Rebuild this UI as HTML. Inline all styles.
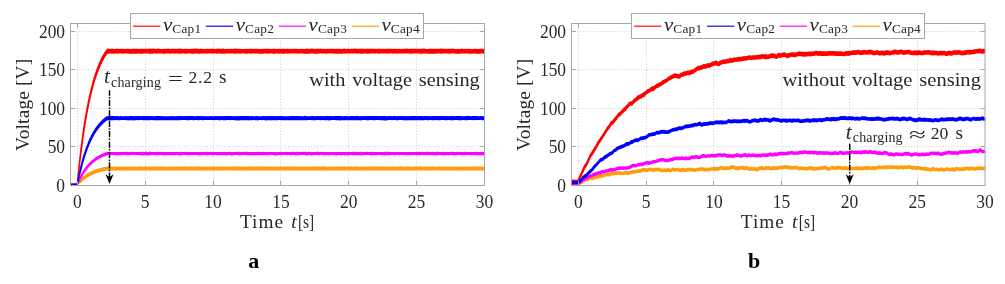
<!DOCTYPE html>
<html lang="en">
<head>
<meta charset="utf-8">
<title>Capacitor charging voltages</title>
<style>
html,body{margin:0;padding:0;background:#fff;}
body{width:1005px;height:284px;overflow:hidden;font-family:"Liberation Serif",serif;}
svg{display:block;will-change:transform;}
text{font-family:"Liberation Serif",serif;fill:#282828;}
.g{stroke:#cecece;stroke-width:1;stroke-dasharray:1 1.9;}
.a{stroke:#a6a6a6;stroke-width:1;}
.tk{font-size:19px;}
.lb{font-size:19.3px;}
.it{font-style:italic;}
.lv{font-size:18.6px;font-style:italic;}
.ls{font-size:13.3px;}
.at{font-size:19.3px;}
.as{font-size:14px;}
.an{font-size:17.6px;}
.cap{font-size:22px;font-weight:bold;fill:#000;}
</style>
</head>
<body>
<svg width="1005" height="284" viewBox="0 0 1005 284">
<rect width="1005" height="284" fill="#fff"/>
<g id="panel-a">
<line x1="77.5" y1="23.5" x2="77.5" y2="185.5" class="g"/>
<line x1="145.5" y1="23.5" x2="145.5" y2="185.5" class="g"/>
<line x1="213.5" y1="23.5" x2="213.5" y2="185.5" class="g"/>
<line x1="280.5" y1="23.5" x2="280.5" y2="185.5" class="g"/>
<line x1="348.5" y1="23.5" x2="348.5" y2="185.5" class="g"/>
<line x1="416.5" y1="23.5" x2="416.5" y2="185.5" class="g"/>
<line x1="70.5" y1="146.5" x2="484.5" y2="146.5" class="g"/>
<line x1="70.5" y1="108.5" x2="484.5" y2="108.5" class="g"/>
<line x1="70.5" y1="69.5" x2="484.5" y2="69.5" class="g"/>
<line x1="70.5" y1="31.5" x2="484.5" y2="31.5" class="g"/>
<path d="M71.0,184.5L72.0,184.4L73.0,184.4L74.0,184.3L75.0,184.4L76.0,184.3L77.0,184.5L77.3,184.2L77.5,181.8L77.8,179.2L78.0,177.0L78.0,176.6L78.3,174.1L78.5,171.5L78.8,169.1L79.0,166.9L79.0,166.5L79.3,164.2L79.5,161.6L79.8,159.4L80.0,157.4L80.0,157.3L80.3,154.9L80.5,152.8L80.8,150.7L81.0,149.0L81.0,148.3L81.3,146.6L81.5,144.8L81.8,142.8L82.0,141.0L82.0,140.9L82.3,138.9L82.5,137.1L82.8,135.3L83.0,133.8L83.0,133.7L83.3,131.8L83.5,130.1L83.8,128.5L84.0,127.1L84.0,126.9L84.3,125.1L84.5,123.6L84.8,121.9L85.0,120.5L85.0,120.4L85.3,119.0L85.5,117.4L85.8,115.7L86.0,114.7L86.0,114.4L86.3,113.1L86.5,111.7L86.8,110.3L87.0,109.1L87.0,109.0L87.3,107.6L87.5,106.1L87.8,105.0L88.0,104.0L88.0,103.7L88.3,102.5L88.5,101.2L88.8,100.0L89.0,99.1L89.0,98.8L89.3,97.6L89.5,96.4L89.8,95.4L90.0,94.5L90.0,94.1L90.3,93.2L90.5,92.2L90.8,91.0L91.0,90.2L91.0,90.1L91.3,89.1L91.5,88.1L91.8,86.9L92.0,86.2L92.0,86.1L92.3,85.2L92.5,84.2L92.8,83.3L93.0,82.4L93.0,82.4L93.3,81.5L93.5,80.5L93.8,79.7L94.0,79.1L94.0,78.9L94.3,78.1L94.5,77.1L94.8,76.5L95.0,75.7L95.0,75.5L95.3,74.9L95.5,73.9L95.8,73.1L96.0,72.7L96.0,72.5L96.3,71.9L96.5,70.9L96.8,70.4L97.0,69.8L97.0,69.8L97.3,69.1L97.5,68.4L97.8,67.8L98.0,67.1L98.0,67.1L98.3,66.4L98.5,65.9L98.8,65.3L99.0,64.6L99.0,64.6L99.3,63.9L99.5,63.3L99.8,62.9L100.0,62.4L100.0,62.2L100.3,61.8L100.5,60.9L100.8,60.5L101.0,60.2L101.0,59.8L101.3,59.5L101.5,58.9L101.8,58.5L102.0,58.1L102.0,58.0L102.3,57.6L102.5,56.9L102.8,56.5L103.0,56.1L103.0,56.2L103.3,55.7L103.5,55.3L103.8,54.7L104.0,54.3L104.0,54.4L104.3,54.0L104.5,53.5L104.8,53.1L105.0,52.6L105.0,52.6L105.3,52.3L105.5,51.8L105.8,51.6L106.0,51.2L106.0,51.2L106.3,50.8L106.5,50.5L106.8,50.1L107.0,49.8L107.0,49.5L107.3,49.5L107.5,49.3L107.8,49.5L108.0,49.4L108.0,49.5L108.3,49.4L109.0,49.4L110.0,49.6L111.0,49.5L112.0,49.3L113.0,49.5L114.0,49.6L115.0,49.6L116.0,49.5L117.0,49.5L118.0,49.5L119.0,49.6L120.0,49.4L121.0,49.4L122.0,49.4L123.0,49.5L124.0,49.6L125.0,49.6L126.0,49.5L127.0,49.5L128.0,49.5L129.0,49.5L130.0,49.6L131.0,49.6L132.0,49.4L133.0,49.5L134.0,49.5L135.0,49.5L136.0,49.4L137.0,49.5L138.0,49.4L139.0,49.6L140.0,49.5L141.0,49.5L142.0,49.5L143.0,49.5L144.0,49.5L145.0,49.4L146.0,49.4L147.0,49.5L148.0,49.5L149.0,49.5L150.0,49.3L151.0,49.4L152.0,49.4L153.0,49.3L154.0,49.5L155.0,49.4L156.0,49.6L157.0,49.5L158.0,49.3L159.0,49.3L160.0,49.6L161.0,49.6L162.0,49.6L163.0,49.6L164.0,49.5L165.0,49.4L166.0,49.6L167.0,49.4L168.0,49.3L169.0,49.5L170.0,49.6L171.0,49.5L172.0,49.4L173.0,49.5L174.0,49.4L175.0,49.5L176.0,49.6L177.0,49.5L178.0,49.5L179.0,49.5L180.0,49.3L181.0,49.4L182.0,49.5L183.0,49.6L184.0,49.6L185.0,49.4L186.0,49.5L187.0,49.5L188.0,49.6L189.0,49.6L190.0,49.6L191.0,49.4L192.0,49.6L193.0,49.3L194.0,49.5L195.0,49.3L196.0,49.1L197.0,49.5L198.0,49.4L199.0,49.6L200.0,49.4L201.0,49.5L202.0,49.4L203.0,49.6L204.0,49.6L205.0,49.6L206.0,49.6L207.0,49.5L208.0,49.5L209.0,49.6L210.0,49.4L211.0,49.5L212.0,49.5L213.0,49.4L214.0,49.4L215.0,49.6L216.0,49.6L217.0,49.4L218.0,49.3L219.0,49.4L220.0,49.5L221.0,49.5L222.0,49.5L223.0,49.2L224.0,49.6L225.0,49.6L226.0,49.6L227.0,49.4L228.0,49.6L229.0,49.6L230.0,49.4L231.0,49.5L232.0,49.6L233.0,49.4L234.0,49.5L235.0,49.5L236.0,49.3L237.0,49.4L238.0,49.4L239.0,49.5L240.0,49.5L241.0,49.6L242.0,49.6L243.0,49.6L244.0,49.6L245.0,49.6L246.0,49.4L247.0,49.5L248.0,49.6L249.0,49.5L250.0,49.5L251.0,49.4L252.0,49.5L253.0,49.6L254.0,49.5L255.0,49.4L256.0,49.6L257.0,49.5L258.0,49.5L259.0,49.6L260.0,49.6L261.0,49.6L262.0,49.4L263.0,49.6L264.0,49.5L265.0,49.5L266.0,49.5L267.0,49.5L268.0,49.4L269.0,49.5L270.0,49.5L271.0,49.6L272.0,49.6L273.0,49.4L274.0,49.5L275.0,49.3L276.0,49.6L277.0,49.6L278.0,49.4L279.0,49.5L280.0,49.4L281.0,49.4L282.0,49.4L283.0,49.5L284.0,49.4L285.0,49.4L286.0,49.6L287.0,49.5L288.0,49.3L289.0,49.6L290.0,49.5L291.0,49.4L292.0,49.6L293.0,49.4L294.0,49.5L295.0,49.5L296.0,49.5L297.0,49.5L298.0,49.6L299.0,49.6L300.0,49.6L301.0,49.5L302.0,49.5L303.0,49.6L304.0,49.6L305.0,49.6L306.0,49.5L307.0,49.3L308.0,49.5L309.0,49.6L310.0,49.3L311.0,49.5L312.0,49.3L313.0,49.4L314.0,49.5L315.0,49.5L316.0,49.6L317.0,49.3L318.0,49.5L319.0,49.5L320.0,49.5L321.0,49.3L322.0,49.6L323.0,49.5L324.0,49.4L325.0,49.6L326.0,49.6L327.0,49.4L328.0,49.6L329.0,49.4L330.0,49.4L331.0,49.4L332.0,49.4L333.0,49.5L334.0,49.5L335.0,49.6L336.0,49.5L337.0,49.5L338.0,49.4L339.0,49.4L340.0,49.5L341.0,49.6L342.0,49.6L343.0,49.4L344.0,49.3L345.0,49.5L346.0,49.6L347.0,49.5L348.0,49.5L349.0,49.4L350.0,49.6L351.0,49.4L352.0,49.5L353.0,49.5L354.0,49.5L355.0,49.3L356.0,49.4L357.0,49.5L358.0,49.4L359.0,49.5L360.0,49.5L361.0,49.4L362.0,49.2L363.0,49.6L364.0,49.4L365.0,49.5L366.0,49.6L367.0,49.3L368.0,49.5L369.0,49.4L370.0,49.4L371.0,49.4L372.0,49.5L373.0,49.4L374.0,49.5L375.0,49.5L376.0,49.6L377.0,49.5L378.0,49.5L379.0,49.5L380.0,49.4L381.0,49.4L382.0,49.6L383.0,49.5L384.0,49.4L385.0,49.6L386.0,49.5L387.0,49.4L388.0,49.5L389.0,49.5L390.0,49.4L391.0,49.5L392.0,49.5L393.0,49.6L394.0,49.5L395.0,49.5L396.0,49.6L397.0,49.5L398.0,49.6L399.0,49.4L400.0,49.6L401.0,49.6L402.0,49.5L403.0,49.5L404.0,49.6L405.0,49.3L406.0,49.5L407.0,49.4L408.0,49.3L409.0,49.6L410.0,49.4L411.0,49.4L412.0,49.4L413.0,49.5L414.0,49.4L415.0,49.5L416.0,49.5L417.0,49.5L418.0,49.5L419.0,49.5L420.0,49.5L421.0,49.4L422.0,49.4L423.0,49.3L424.0,49.3L425.0,49.5L426.0,49.6L427.0,49.6L428.0,49.6L429.0,49.6L430.0,49.3L431.0,49.4L432.0,49.4L433.0,49.4L434.0,49.4L435.0,49.5L436.0,49.5L437.0,49.5L438.0,49.4L439.0,49.5L440.0,49.4L441.0,49.2L442.0,49.5L443.0,49.4L444.0,49.4L445.0,49.4L446.0,49.6L447.0,49.4L448.0,49.4L449.0,49.4L450.0,49.5L451.0,49.5L452.0,49.5L453.0,49.3L454.0,49.5L455.0,49.6L456.0,49.6L457.0,49.6L458.0,49.4L459.0,49.6L460.0,49.6L461.0,49.4L462.0,49.3L463.0,49.6L464.0,49.5L465.0,49.6L466.0,49.5L467.0,49.5L468.0,49.6L469.0,49.4L470.0,49.5L471.0,49.6L472.0,49.6L473.0,49.6L474.0,49.5L475.0,49.5L476.0,49.6L477.0,49.5L478.0,49.6L479.0,49.6L480.0,49.4L481.0,49.6L482.0,49.4L483.0,49.5L484.0,49.6L484.0,53.0L483.0,52.8L482.0,52.9L481.0,52.9L480.0,53.0L479.0,52.9L478.0,53.0L477.0,53.0L476.0,53.1L475.0,52.9L474.0,52.9L473.0,52.9L472.0,53.1L471.0,52.9L470.0,53.0L469.0,53.0L468.0,52.9L467.0,52.9L466.0,52.9L465.0,52.9L464.0,52.9L463.0,52.9L462.0,52.9L461.0,52.9L460.0,53.0L459.0,53.0L458.0,53.2L457.0,52.8L456.0,53.0L455.0,52.8L454.0,52.9L453.0,52.8L452.0,52.9L451.0,52.8L450.0,53.1L449.0,53.1L448.0,52.8L447.0,52.9L446.0,52.8L445.0,52.9L444.0,52.9L443.0,52.8L442.0,52.8L441.0,53.1L440.0,52.9L439.0,52.8L438.0,52.8L437.0,52.8L436.0,53.0L435.0,52.9L434.0,53.0L433.0,53.0L432.0,52.9L431.0,53.1L430.0,53.0L429.0,53.1L428.0,53.0L427.0,52.8L426.0,52.8L425.0,52.9L424.0,52.9L423.0,52.9L422.0,53.1L421.0,52.8L420.0,53.1L419.0,52.8L418.0,52.8L417.0,52.8L416.0,52.9L415.0,52.9L414.0,52.9L413.0,52.9L412.0,53.1L411.0,52.8L410.0,53.1L409.0,52.9L408.0,52.9L407.0,52.8L406.0,52.9L405.0,52.9L404.0,52.9L403.0,52.9L402.0,52.9L401.0,52.8L400.0,52.8L399.0,52.8L398.0,52.8L397.0,53.0L396.0,52.9L395.0,52.8L394.0,52.8L393.0,53.0L392.0,52.8L391.0,52.9L390.0,52.9L389.0,52.8L388.0,53.0L387.0,52.9L386.0,52.9L385.0,52.9L384.0,52.9L383.0,52.8L382.0,52.9L381.0,52.9L380.0,52.9L379.0,53.1L378.0,52.9L377.0,52.8L376.0,52.9L375.0,52.9L374.0,52.8L373.0,52.9L372.0,52.9L371.0,52.9L370.0,52.9L369.0,53.1L368.0,53.0L367.0,53.1L366.0,52.8L365.0,52.9L364.0,52.9L363.0,53.1L362.0,52.9L361.0,53.0L360.0,52.9L359.0,52.8L358.0,53.0L357.0,52.9L356.0,52.9L355.0,52.8L354.0,52.8L353.0,52.9L352.0,52.9L351.0,52.8L350.0,52.8L349.0,52.9L348.0,52.9L347.0,52.9L346.0,52.9L345.0,53.0L344.0,52.9L343.0,52.8L342.0,53.0L341.0,52.8L340.0,53.0L339.0,53.0L338.0,52.9L337.0,53.0L336.0,53.0L335.0,53.0L334.0,52.8L333.0,52.9L332.0,52.9L331.0,52.9L330.0,52.8L329.0,52.8L328.0,52.9L327.0,52.9L326.0,53.1L325.0,52.9L324.0,52.9L323.0,52.8L322.0,52.9L321.0,52.8L320.0,52.9L319.0,52.8L318.0,53.0L317.0,52.8L316.0,53.0L315.0,53.0L314.0,53.0L313.0,52.8L312.0,52.8L311.0,52.9L310.0,52.8L309.0,53.1L308.0,53.1L307.0,53.0L306.0,53.0L305.0,52.8L304.0,53.0L303.0,52.9L302.0,52.8L301.0,52.9L300.0,52.9L299.0,52.8L298.0,53.0L297.0,52.8L296.0,52.8L295.0,52.8L294.0,52.8L293.0,52.9L292.0,52.9L291.0,52.9L290.0,52.8L289.0,52.9L288.0,53.1L287.0,52.8L286.0,52.8L285.0,52.9L284.0,53.1L283.0,52.9L282.0,53.0L281.0,52.9L280.0,52.8L279.0,53.0L278.0,52.8L277.0,52.8L276.0,52.8L275.0,53.1L274.0,52.9L273.0,53.0L272.0,52.8L271.0,52.8L270.0,52.9L269.0,52.9L268.0,53.2L267.0,52.8L266.0,52.9L265.0,52.9L264.0,52.9L263.0,53.0L262.0,52.8L261.0,53.0L260.0,52.9L259.0,53.0L258.0,52.9L257.0,52.9L256.0,52.9L255.0,52.8L254.0,52.9L253.0,52.9L252.0,52.9L251.0,53.1L250.0,52.8L249.0,52.8L248.0,52.9L247.0,53.0L246.0,53.1L245.0,52.9L244.0,52.9L243.0,52.9L242.0,52.8L241.0,52.9L240.0,53.0L239.0,52.9L238.0,52.9L237.0,52.9L236.0,52.9L235.0,53.2L234.0,52.9L233.0,52.8L232.0,52.9L231.0,52.9L230.0,52.9L229.0,52.8L228.0,52.9L227.0,52.8L226.0,52.8L225.0,53.1L224.0,53.0L223.0,52.8L222.0,53.0L221.0,53.0L220.0,52.8L219.0,52.8L218.0,52.8L217.0,53.0L216.0,52.9L215.0,52.9L214.0,52.9L213.0,53.0L212.0,52.8L211.0,52.9L210.0,52.8L209.0,52.8L208.0,52.8L207.0,52.9L206.0,53.1L205.0,52.9L204.0,52.9L203.0,53.0L202.0,52.9L201.0,52.9L200.0,53.0L199.0,52.8L198.0,53.0L197.0,52.8L196.0,52.9L195.0,52.9L194.0,53.0L193.0,52.8L192.0,53.1L191.0,52.9L190.0,52.9L189.0,52.9L188.0,52.8L187.0,52.9L186.0,53.0L185.0,53.0L184.0,52.9L183.0,52.9L182.0,52.9L181.0,52.9L180.0,53.1L179.0,53.0L178.0,52.9L177.0,52.8L176.0,52.9L175.0,53.0L174.0,52.8L173.0,52.8L172.0,52.9L171.0,52.8L170.0,53.0L169.0,52.9L168.0,52.9L167.0,52.8L166.0,52.8L165.0,53.1L164.0,52.9L163.0,53.0L162.0,52.8L161.0,52.9L160.0,52.8L159.0,52.8L158.0,52.8L157.0,52.8L156.0,53.0L155.0,52.9L154.0,52.9L153.0,53.0L152.0,53.1L151.0,53.1L150.0,52.8L149.0,53.0L148.0,52.9L147.0,52.9L146.0,52.8L145.0,52.8L144.0,52.8L143.0,52.8L142.0,53.0L141.0,52.8L140.0,53.1L139.0,52.8L138.0,52.9L137.0,53.0L136.0,52.9L135.0,53.1L134.0,52.8L133.0,53.1L132.0,53.0L131.0,52.8L130.0,53.0L129.0,53.1L128.0,52.8L127.0,52.9L126.0,52.8L125.0,52.9L124.0,52.8L123.0,53.0L122.0,52.8L121.0,52.9L120.0,52.9L119.0,52.8L118.0,52.9L117.0,53.1L116.0,52.9L115.0,52.9L114.0,53.1L113.0,53.1L112.0,52.9L111.0,52.9L110.0,52.9L109.0,53.0L108.3,52.8L108.0,52.8L108.0,53.1L107.8,52.9L107.5,52.8L107.3,52.9L107.0,53.3L107.0,53.1L106.8,53.5L106.5,53.9L106.3,54.1L106.0,54.4L106.0,54.5L105.8,54.9L105.5,55.2L105.3,55.7L105.0,56.1L105.0,56.1L104.8,56.5L104.5,56.9L104.3,57.3L104.0,57.7L104.0,57.7L103.8,58.1L103.5,58.6L103.3,59.1L103.0,59.6L103.0,59.7L102.8,60.0L102.5,60.4L102.3,60.8L102.0,61.5L102.0,61.4L101.8,62.0L101.5,62.4L101.3,62.8L101.0,63.7L101.0,63.8L100.8,64.1L100.5,64.5L100.3,65.1L100.0,65.7L100.0,65.7L99.8,66.1L99.5,66.8L99.3,67.3L99.0,68.0L99.0,68.1L98.8,68.5L98.5,69.2L98.3,69.8L98.0,70.5L98.0,70.5L97.8,71.2L97.5,71.7L97.3,72.4L97.0,73.1L97.0,73.3L96.8,73.9L96.5,74.5L96.3,75.2L96.0,76.0L96.0,76.2L95.8,76.8L95.5,77.5L95.3,78.2L95.0,78.9L95.0,79.2L94.8,79.9L94.5,80.5L94.3,81.5L94.0,82.2L94.0,82.3L93.8,83.0L93.5,84.2L93.3,84.9L93.0,85.6L93.0,85.9L92.8,86.7L92.5,87.5L92.3,88.5L92.0,89.5L92.0,89.8L91.8,90.4L91.5,91.4L91.3,92.3L91.0,93.8L91.0,93.6L90.8,94.4L90.5,95.5L90.3,96.6L90.0,97.7L90.0,97.8L89.8,99.0L89.5,100.0L89.3,101.1L89.0,102.2L89.0,102.6L88.8,103.4L88.5,104.5L88.3,105.8L88.0,107.3L88.0,107.3L87.8,108.3L87.5,109.6L87.3,110.9L87.0,112.4L87.0,112.5L86.8,113.7L86.5,114.9L86.3,116.5L86.0,117.9L86.0,118.0L85.8,119.3L85.5,120.8L85.3,122.3L85.0,123.9L85.0,124.0L84.8,125.3L84.5,127.1L84.3,128.7L84.0,130.1L84.0,130.4L83.8,131.9L83.5,133.5L83.3,135.3L83.0,137.1L83.0,137.2L82.8,139.0L82.5,140.5L82.3,142.4L82.0,144.4L82.0,144.5L81.8,146.2L81.5,148.1L81.3,150.0L81.0,152.1L81.0,152.2L80.8,154.0L80.5,156.0L80.3,157.9L80.0,160.0L80.0,160.3L79.8,162.0L79.5,164.1L79.3,166.2L79.0,168.6L79.0,168.7L78.8,170.6L78.5,172.8L78.3,175.1L78.0,177.4L78.0,177.9L77.8,179.7L77.5,182.3L77.3,184.8L77.0,184.8L76.0,184.7L75.0,184.7L74.0,184.7L73.0,184.7L72.0,184.7L71.0,185.0Z" fill="#ff0000" stroke="#ff0000" stroke-width="1.4" stroke-linejoin="round"/>
<path d="M71.0,184.3L72.0,184.1L73.0,184.3L74.0,184.4L75.0,184.4L76.0,184.4L77.0,184.4L77.3,184.4L77.5,184.0L77.8,183.5L78.0,183.5L78.0,183.3L78.3,183.0L78.5,182.6L78.8,182.2L79.0,181.9L79.0,181.8L79.3,181.5L79.5,181.1L79.8,180.6L80.0,180.3L80.0,180.3L80.3,180.2L80.5,179.5L80.8,179.5L81.0,179.4L81.0,179.3L81.3,179.0L81.5,178.8L81.8,178.6L82.0,178.3L82.0,178.4L82.3,178.1L82.5,177.8L82.8,177.7L83.0,177.4L83.0,177.5L83.3,177.2L83.5,177.1L83.8,176.8L84.0,176.7L84.0,176.7L84.3,176.5L84.5,176.3L84.8,176.0L85.0,175.8L85.0,175.8L85.3,175.8L85.5,175.5L85.8,175.3L86.0,175.2L86.0,175.2L86.3,175.0L86.5,174.7L86.8,174.6L87.0,174.3L87.0,174.5L87.3,174.1L87.5,174.3L87.8,173.9L88.0,173.9L88.0,173.7L88.3,173.7L88.5,173.4L88.8,173.5L89.0,173.4L89.0,173.2L89.3,172.9L89.5,172.9L89.8,172.9L90.0,172.8L90.0,172.7L90.3,172.6L90.5,172.4L90.8,172.4L91.0,172.2L91.0,172.3L91.3,172.2L91.5,171.7L91.8,171.8L92.0,171.8L92.0,171.8L92.3,171.6L92.5,171.4L92.8,171.4L93.0,171.3L93.0,171.1L93.3,171.1L93.5,171.1L93.8,171.1L94.0,170.8L94.0,170.9L94.3,170.9L94.5,170.7L94.8,170.6L95.0,170.5L95.0,170.3L95.3,170.3L95.5,170.1L95.8,170.0L96.0,170.2L96.0,170.2L96.3,170.1L96.5,169.9L96.8,169.9L97.0,169.9L97.0,169.8L97.3,169.5L97.5,169.7L97.8,169.5L98.0,169.5L98.0,169.5L98.3,169.4L98.5,169.3L98.8,169.2L99.0,169.1L99.0,169.1L99.3,169.0L99.5,168.9L99.8,169.0L100.0,168.9L100.0,168.8L100.3,168.7L100.5,168.8L100.8,168.7L101.0,168.7L101.0,168.4L101.3,168.5L101.5,168.6L101.8,168.4L102.0,168.3L102.0,168.4L102.3,168.4L102.5,168.2L102.8,168.2L103.0,168.2L103.0,168.1L103.3,167.9L103.5,168.1L103.8,167.8L104.0,167.9L104.0,167.8L104.3,167.8L104.5,167.7L104.8,167.8L105.0,167.6L105.0,167.7L105.3,167.6L105.5,167.7L105.8,167.6L106.0,167.6L106.0,167.6L106.3,167.5L106.5,167.4L106.8,167.3L107.0,167.3L107.0,167.2L107.3,167.3L107.5,167.2L107.8,167.4L108.0,167.4L108.0,167.4L108.3,167.3L109.0,167.4L110.0,167.3L111.0,167.2L112.0,167.3L113.0,167.4L114.0,167.3L115.0,167.3L116.0,167.4L117.0,167.1L118.0,167.3L119.0,167.4L120.0,167.3L121.0,167.4L122.0,167.2L123.0,167.4L124.0,167.3L125.0,167.1L126.0,167.4L127.0,167.2L128.0,167.4L129.0,167.4L130.0,167.3L131.0,167.3L132.0,167.4L133.0,167.3L134.0,167.4L135.0,167.3L136.0,167.3L137.0,167.4L138.0,167.4L139.0,167.0L140.0,167.3L141.0,167.2L142.0,167.4L143.0,167.4L144.0,167.3L145.0,167.3L146.0,167.2L147.0,167.4L148.0,167.3L149.0,167.3L150.0,167.4L151.0,167.3L152.0,167.2L153.0,167.4L154.0,167.3L155.0,167.2L156.0,167.4L157.0,167.2L158.0,167.3L159.0,167.2L160.0,167.2L161.0,167.3L162.0,167.2L163.0,167.3L164.0,167.2L165.0,167.3L166.0,167.4L167.0,167.4L168.0,167.4L169.0,167.4L170.0,167.3L171.0,167.4L172.0,167.2L173.0,167.2L174.0,167.4L175.0,167.3L176.0,167.4L177.0,167.3L178.0,167.4L179.0,167.3L180.0,167.2L181.0,167.3L182.0,167.3L183.0,167.3L184.0,167.4L185.0,167.0L186.0,167.3L187.0,167.4L188.0,167.2L189.0,167.4L190.0,167.4L191.0,167.2L192.0,167.2L193.0,167.2L194.0,167.4L195.0,167.4L196.0,167.2L197.0,167.3L198.0,167.0L199.0,167.3L200.0,167.2L201.0,167.3L202.0,167.3L203.0,167.2L204.0,167.2L205.0,167.4L206.0,167.4L207.0,167.3L208.0,167.4L209.0,167.4L210.0,167.3L211.0,167.2L212.0,167.4L213.0,167.3L214.0,167.2L215.0,167.2L216.0,167.4L217.0,167.2L218.0,167.2L219.0,167.2L220.0,167.4L221.0,167.4L222.0,167.1L223.0,167.2L224.0,167.3L225.0,167.3L226.0,167.4L227.0,167.4L228.0,167.2L229.0,167.4L230.0,167.3L231.0,167.2L232.0,167.4L233.0,167.4L234.0,167.2L235.0,167.3L236.0,167.3L237.0,167.3L238.0,167.3L239.0,167.3L240.0,167.3L241.0,167.2L242.0,167.4L243.0,167.4L244.0,167.3L245.0,167.1L246.0,167.4L247.0,167.3L248.0,167.2L249.0,167.1L250.0,167.0L251.0,167.3L252.0,167.3L253.0,167.2L254.0,167.3L255.0,167.4L256.0,167.3L257.0,167.3L258.0,167.3L259.0,167.1L260.0,167.0L261.0,167.3L262.0,167.2L263.0,167.3L264.0,167.2L265.0,167.2L266.0,167.2L267.0,167.4L268.0,167.2L269.0,167.4L270.0,167.1L271.0,167.2L272.0,167.4L273.0,167.3L274.0,167.4L275.0,167.4L276.0,167.1L277.0,167.2L278.0,167.4L279.0,167.2L280.0,167.3L281.0,167.4L282.0,167.3L283.0,167.2L284.0,167.4L285.0,167.2L286.0,167.4L287.0,167.2L288.0,167.3L289.0,167.4L290.0,167.3L291.0,167.3L292.0,167.2L293.0,167.2L294.0,167.1L295.0,167.4L296.0,167.3L297.0,167.3L298.0,167.4L299.0,167.3L300.0,167.4L301.0,167.4L302.0,167.3L303.0,167.3L304.0,167.4L305.0,167.2L306.0,167.4L307.0,167.2L308.0,167.4L309.0,167.3L310.0,167.4L311.0,167.4L312.0,167.2L313.0,167.3L314.0,167.3L315.0,167.3L316.0,167.2L317.0,167.3L318.0,167.4L319.0,167.2L320.0,167.2L321.0,167.2L322.0,167.3L323.0,167.0L324.0,167.0L325.0,167.2L326.0,167.3L327.0,167.4L328.0,167.4L329.0,167.4L330.0,167.2L331.0,167.3L332.0,167.4L333.0,167.4L334.0,167.2L335.0,167.4L336.0,167.1L337.0,167.3L338.0,167.4L339.0,167.1L340.0,167.2L341.0,167.2L342.0,167.3L343.0,167.3L344.0,167.4L345.0,167.3L346.0,167.4L347.0,167.4L348.0,167.4L349.0,167.3L350.0,167.3L351.0,167.3L352.0,167.3L353.0,167.4L354.0,167.4L355.0,167.3L356.0,167.0L357.0,167.3L358.0,167.4L359.0,167.4L360.0,167.3L361.0,167.3L362.0,167.3L363.0,167.4L364.0,167.4L365.0,167.3L366.0,167.4L367.0,167.4L368.0,167.2L369.0,167.2L370.0,167.4L371.0,167.2L372.0,167.3L373.0,167.2L374.0,167.4L375.0,167.3L376.0,167.0L377.0,167.2L378.0,167.3L379.0,167.2L380.0,167.4L381.0,167.3L382.0,167.2L383.0,167.3L384.0,167.4L385.0,167.3L386.0,167.3L387.0,167.3L388.0,167.4L389.0,167.4L390.0,167.4L391.0,167.2L392.0,167.1L393.0,167.3L394.0,167.3L395.0,167.4L396.0,167.4L397.0,167.3L398.0,167.4L399.0,167.2L400.0,167.3L401.0,167.0L402.0,167.1L403.0,167.3L404.0,167.4L405.0,167.4L406.0,167.2L407.0,167.2L408.0,167.4L409.0,167.2L410.0,167.4L411.0,167.4L412.0,167.4L413.0,167.4L414.0,167.2L415.0,167.3L416.0,167.3L417.0,167.2L418.0,167.3L419.0,167.4L420.0,167.0L421.0,167.4L422.0,167.3L423.0,167.4L424.0,167.2L425.0,167.3L426.0,167.3L427.0,167.2L428.0,167.4L429.0,167.2L430.0,167.4L431.0,167.3L432.0,167.4L433.0,167.2L434.0,167.3L435.0,167.4L436.0,167.4L437.0,167.4L438.0,167.3L439.0,167.1L440.0,167.4L441.0,167.3L442.0,167.4L443.0,167.3L444.0,167.3L445.0,167.4L446.0,167.3L447.0,167.4L448.0,167.2L449.0,167.2L450.0,167.3L451.0,167.4L452.0,167.4L453.0,167.2L454.0,167.3L455.0,167.4L456.0,167.1L457.0,167.3L458.0,167.4L459.0,167.3L460.0,167.4L461.0,167.3L462.0,167.4L463.0,167.4L464.0,167.1L465.0,167.4L466.0,167.4L467.0,167.4L468.0,167.2L469.0,167.4L470.0,167.4L471.0,167.4L472.0,167.3L473.0,167.3L474.0,167.2L475.0,167.4L476.0,167.2L477.0,167.3L478.0,167.3L479.0,167.3L480.0,167.4L481.0,167.4L482.0,167.4L483.0,167.3L484.0,167.1L484.0,169.7L483.0,169.9L482.0,169.7L481.0,169.7L480.0,169.7L479.0,169.7L478.0,169.8L477.0,169.8L476.0,169.6L475.0,169.7L474.0,169.7L473.0,169.8L472.0,169.7L471.0,169.8L470.0,169.7L469.0,169.8L468.0,169.9L467.0,169.8L466.0,169.8L465.0,169.7L464.0,169.7L463.0,169.7L462.0,169.6L461.0,169.7L460.0,170.0L459.0,169.8L458.0,169.8L457.0,169.6L456.0,170.1L455.0,169.7L454.0,169.8L453.0,169.7L452.0,169.7L451.0,169.7L450.0,169.9L449.0,169.7L448.0,169.7L447.0,169.8L446.0,169.7L445.0,169.7L444.0,169.7L443.0,169.7L442.0,169.7L441.0,169.6L440.0,169.8L439.0,169.8L438.0,169.8L437.0,169.8L436.0,169.8L435.0,169.6L434.0,169.6L433.0,169.7L432.0,169.7L431.0,169.8L430.0,169.6L429.0,169.9L428.0,169.7L427.0,169.6L426.0,169.7L425.0,169.9L424.0,169.6L423.0,169.6L422.0,170.0L421.0,169.7L420.0,169.9L419.0,169.8L418.0,169.7L417.0,169.7L416.0,169.9L415.0,169.7L414.0,169.8L413.0,169.7L412.0,169.8L411.0,169.9L410.0,169.8L409.0,169.8L408.0,169.7L407.0,169.7L406.0,169.9L405.0,169.8L404.0,169.9L403.0,169.8L402.0,169.8L401.0,169.7L400.0,169.6L399.0,169.6L398.0,169.9L397.0,169.6L396.0,169.8L395.0,169.7L394.0,169.7L393.0,169.6L392.0,169.7L391.0,169.8L390.0,169.7L389.0,169.7L388.0,169.8L387.0,169.7L386.0,169.8L385.0,169.9L384.0,169.6L383.0,169.8L382.0,169.7L381.0,169.7L380.0,169.7L379.0,169.8L378.0,169.9L377.0,169.7L376.0,169.7L375.0,169.7L374.0,169.7L373.0,169.8L372.0,169.6L371.0,169.7L370.0,169.6L369.0,169.9L368.0,169.7L367.0,169.7L366.0,169.7L365.0,170.0L364.0,169.7L363.0,169.7L362.0,169.8L361.0,169.8L360.0,169.8L359.0,169.8L358.0,169.9L357.0,169.7L356.0,169.6L355.0,169.7L354.0,169.7L353.0,169.8L352.0,169.7L351.0,169.9L350.0,169.8L349.0,169.8L348.0,169.9L347.0,169.7L346.0,169.8L345.0,169.8L344.0,169.8L343.0,169.7L342.0,169.7L341.0,169.7L340.0,169.6L339.0,169.9L338.0,169.7L337.0,169.7L336.0,169.8L335.0,169.7L334.0,169.7L333.0,169.7L332.0,169.8L331.0,169.7L330.0,169.7L329.0,169.7L328.0,169.8L327.0,169.8L326.0,169.6L325.0,169.7L324.0,169.9L323.0,169.6L322.0,170.0L321.0,169.7L320.0,169.7L319.0,169.8L318.0,169.6L317.0,169.7L316.0,169.8L315.0,169.9L314.0,169.7L313.0,169.7L312.0,169.6L311.0,169.8L310.0,169.7L309.0,169.9L308.0,169.8L307.0,169.6L306.0,169.7L305.0,169.8L304.0,169.7L303.0,169.6L302.0,169.7L301.0,169.8L300.0,169.8L299.0,169.8L298.0,169.6L297.0,169.9L296.0,169.7L295.0,169.7L294.0,169.8L293.0,169.7L292.0,169.8L291.0,169.9L290.0,169.7L289.0,169.8L288.0,169.8L287.0,169.8L286.0,169.7L285.0,169.7L284.0,169.7L283.0,169.9L282.0,169.7L281.0,169.7L280.0,169.7L279.0,169.6L278.0,169.7L277.0,169.8L276.0,169.7L275.0,169.8L274.0,169.7L273.0,169.7L272.0,169.6L271.0,169.9L270.0,169.9L269.0,169.7L268.0,169.7L267.0,169.7L266.0,169.7L265.0,169.7L264.0,169.6L263.0,169.6L262.0,169.8L261.0,169.7L260.0,169.8L259.0,169.8L258.0,169.8L257.0,169.6L256.0,169.7L255.0,169.9L254.0,169.8L253.0,169.7L252.0,169.8L251.0,169.9L250.0,169.6L249.0,169.8L248.0,169.7L247.0,169.7L246.0,169.6L245.0,169.7L244.0,170.0L243.0,169.6L242.0,169.7L241.0,169.8L240.0,169.9L239.0,169.7L238.0,169.6L237.0,169.7L236.0,169.6L235.0,169.7L234.0,169.8L233.0,169.7L232.0,169.7L231.0,169.7L230.0,169.6L229.0,169.8L228.0,169.6L227.0,169.6L226.0,169.6L225.0,169.7L224.0,169.8L223.0,169.7L222.0,169.8L221.0,169.8L220.0,169.7L219.0,169.9L218.0,169.8L217.0,169.7L216.0,169.7L215.0,169.7L214.0,170.0L213.0,169.7L212.0,169.6L211.0,169.8L210.0,169.7L209.0,169.7L208.0,169.7L207.0,169.9L206.0,169.7L205.0,169.7L204.0,169.8L203.0,169.8L202.0,169.7L201.0,170.0L200.0,169.7L199.0,169.7L198.0,169.8L197.0,169.7L196.0,169.9L195.0,169.7L194.0,169.6L193.0,169.8L192.0,169.6L191.0,169.9L190.0,169.7L189.0,169.8L188.0,169.7L187.0,169.7L186.0,169.7L185.0,169.7L184.0,169.7L183.0,169.8L182.0,169.8L181.0,169.6L180.0,169.8L179.0,169.7L178.0,169.8L177.0,169.8L176.0,169.7L175.0,169.9L174.0,169.8L173.0,169.8L172.0,169.6L171.0,169.8L170.0,169.7L169.0,169.8L168.0,169.8L167.0,169.7L166.0,169.7L165.0,169.7L164.0,169.8L163.0,169.7L162.0,169.7L161.0,169.7L160.0,169.7L159.0,169.9L158.0,169.7L157.0,169.8L156.0,169.6L155.0,169.7L154.0,169.7L153.0,169.7L152.0,169.8L151.0,169.8L150.0,169.8L149.0,169.7L148.0,169.8L147.0,169.7L146.0,170.0L145.0,169.6L144.0,169.7L143.0,169.9L142.0,169.7L141.0,169.7L140.0,169.8L139.0,169.7L138.0,169.8L137.0,169.7L136.0,169.8L135.0,169.7L134.0,169.7L133.0,169.8L132.0,169.9L131.0,169.9L130.0,169.6L129.0,169.7L128.0,169.8L127.0,169.8L126.0,169.7L125.0,170.0L124.0,169.7L123.0,169.7L122.0,169.8L121.0,169.8L120.0,169.8L119.0,169.7L118.0,169.7L117.0,169.8L116.0,170.0L115.0,169.8L114.0,169.8L113.0,169.8L112.0,169.7L111.0,169.8L110.0,169.7L109.0,169.8L108.3,169.7L108.0,169.9L108.0,169.7L107.8,169.8L107.5,169.6L107.3,169.7L107.0,169.8L107.0,169.7L106.8,169.9L106.5,169.8L106.3,169.9L106.0,169.9L106.0,169.9L105.8,170.1L105.5,170.0L105.3,170.1L105.0,170.1L105.0,170.3L104.8,170.2L104.5,170.2L104.3,170.2L104.0,170.6L104.0,170.3L103.8,170.4L103.5,170.5L103.3,170.6L103.0,170.5L103.0,170.6L102.8,170.7L102.5,170.7L102.3,170.8L102.0,170.8L102.0,170.9L101.8,170.8L101.5,171.0L101.3,171.0L101.0,171.1L101.0,170.9L100.8,171.1L100.5,171.2L100.3,171.4L100.0,171.3L100.0,171.3L99.8,171.4L99.5,171.3L99.3,171.5L99.0,171.7L99.0,171.6L98.8,171.6L98.5,171.7L98.3,172.0L98.0,171.8L98.0,171.9L97.8,171.9L97.5,171.9L97.3,172.3L97.0,172.1L97.0,172.1L96.8,172.2L96.5,172.4L96.3,172.4L96.0,172.4L96.0,172.6L95.8,172.5L95.5,172.6L95.3,172.9L95.0,172.8L95.0,173.0L94.8,173.0L94.5,173.0L94.3,173.2L94.0,173.2L94.0,173.3L93.8,173.3L93.5,173.5L93.3,173.5L93.0,173.8L93.0,173.9L92.8,173.8L92.5,173.9L92.3,174.0L92.0,174.2L92.0,174.1L91.8,174.2L91.5,174.3L91.3,174.5L91.0,174.7L91.0,174.7L90.8,174.7L90.5,174.9L90.3,175.1L90.0,175.1L90.0,175.4L89.8,175.2L89.5,175.4L89.3,175.5L89.0,175.6L89.0,175.8L88.8,176.0L88.5,176.1L88.3,176.1L88.0,176.2L88.0,176.3L87.8,176.5L87.5,176.6L87.3,176.8L87.0,176.8L87.0,176.9L86.8,177.0L86.5,177.2L86.3,177.3L86.0,177.5L86.0,177.6L85.8,177.8L85.5,177.9L85.3,178.0L85.0,178.2L85.0,178.3L84.8,178.4L84.5,178.7L84.3,179.1L84.0,179.0L84.0,179.0L83.8,179.1L83.5,179.5L83.3,179.6L83.0,179.8L83.0,180.0L82.8,180.0L82.5,180.5L82.3,180.4L82.0,180.7L82.0,180.7L81.8,180.9L81.5,181.2L81.3,181.4L81.0,181.9L81.0,181.7L80.8,181.9L80.5,182.2L80.3,182.2L80.0,182.4L80.0,182.5L79.8,182.6L79.5,182.8L79.3,183.0L79.0,183.1L79.0,183.3L78.8,183.3L78.5,183.6L78.3,183.7L78.0,184.2L78.0,184.0L77.8,184.2L77.5,184.4L77.3,184.7L77.0,184.8L76.0,184.7L75.0,184.8L74.0,184.8L73.0,184.8L72.0,184.8L71.0,184.8Z" fill="#ff9d0a" stroke="#ff9d0a" stroke-width="1.4" stroke-linejoin="round"/>
<path d="M71.0,184.3L72.0,184.4L73.0,184.2L74.0,184.2L75.0,184.3L76.0,184.4L77.0,184.4L77.3,184.3L77.5,183.6L77.8,183.2L78.0,182.6L78.0,182.6L78.3,181.8L78.5,181.2L78.8,180.8L79.0,180.2L79.0,180.1L79.3,179.5L79.5,178.9L79.8,178.4L80.0,178.0L80.0,177.9L80.3,177.1L80.5,176.8L80.8,176.1L81.0,175.9L81.0,175.5L81.3,175.3L81.5,174.8L81.8,174.2L82.0,173.9L82.0,173.7L82.3,173.5L82.5,173.0L82.8,172.7L83.0,172.3L83.0,172.3L83.3,171.7L83.5,171.4L83.8,171.1L84.0,170.7L84.0,170.6L84.3,170.2L84.5,169.8L84.8,169.4L85.0,169.1L85.0,169.2L85.3,168.5L85.5,168.4L85.8,168.1L86.0,167.9L86.0,167.7L86.3,167.5L86.5,167.2L86.8,166.8L87.0,166.3L87.0,166.3L87.3,166.2L87.5,165.9L87.8,165.6L88.0,165.4L88.0,165.2L88.3,165.1L88.5,164.7L88.8,164.4L89.0,164.0L89.0,164.0L89.3,163.6L89.5,163.6L89.8,163.3L90.0,163.0L90.0,163.2L90.3,162.8L90.5,162.6L90.8,162.3L91.0,162.1L91.0,162.2L91.3,161.7L91.5,161.7L91.8,161.5L92.0,161.2L92.0,161.2L92.3,160.8L92.5,160.6L92.8,160.5L93.0,160.3L93.0,160.2L93.3,159.9L93.5,159.9L93.8,159.7L94.0,159.6L94.0,159.4L94.3,159.3L94.5,159.0L94.8,158.8L95.0,158.8L95.0,158.7L95.3,158.5L95.5,158.2L95.8,158.1L96.0,158.0L96.0,158.1L96.3,157.8L96.5,157.8L96.8,157.6L97.0,157.3L97.0,157.2L97.3,157.2L97.5,156.9L97.8,156.7L98.0,156.8L98.0,156.7L98.3,156.6L98.5,156.5L98.8,156.4L99.0,156.1L99.0,156.1L99.3,156.1L99.5,155.9L99.8,155.7L100.0,155.7L100.0,155.7L100.3,155.4L100.5,155.5L100.8,155.3L101.0,155.2L101.0,155.2L101.3,155.0L101.5,154.9L101.8,154.7L102.0,154.7L102.0,154.6L102.3,154.4L102.5,154.5L102.8,154.3L103.0,154.3L103.0,154.2L103.3,154.1L103.5,154.0L103.8,154.0L104.0,153.7L104.0,153.7L104.3,153.6L104.5,153.6L104.8,153.5L105.0,153.4L105.0,153.3L105.3,153.4L105.5,153.2L105.8,153.2L106.0,153.0L106.0,153.1L106.3,153.0L106.5,153.0L106.8,152.8L107.0,152.3L107.0,152.8L107.3,152.5L107.5,152.7L107.8,152.6L108.0,152.7L108.0,152.7L108.3,152.7L109.0,152.7L110.0,152.7L111.0,152.7L112.0,152.6L113.0,152.6L114.0,152.8L115.0,152.6L116.0,152.7L117.0,152.8L118.0,152.7L119.0,152.7L120.0,152.6L121.0,152.7L122.0,152.7L123.0,152.6L124.0,152.5L125.0,152.7L126.0,152.7L127.0,152.5L128.0,152.6L129.0,152.7L130.0,152.7L131.0,152.4L132.0,152.7L133.0,152.7L134.0,152.7L135.0,152.6L136.0,152.6L137.0,152.7L138.0,152.7L139.0,152.7L140.0,152.6L141.0,152.5L142.0,152.7L143.0,152.5L144.0,152.6L145.0,152.6L146.0,152.3L147.0,152.6L148.0,152.7L149.0,152.6L150.0,152.2L151.0,152.7L152.0,152.7L153.0,152.6L154.0,152.7L155.0,152.7L156.0,152.7L157.0,152.7L158.0,152.5L159.0,152.6L160.0,152.7L161.0,152.6L162.0,152.5L163.0,152.6L164.0,152.7L165.0,152.6L166.0,152.7L167.0,152.7L168.0,152.8L169.0,152.7L170.0,152.7L171.0,152.7L172.0,152.6L173.0,152.7L174.0,152.7L175.0,152.7L176.0,152.7L177.0,152.6L178.0,152.7L179.0,152.7L180.0,152.7L181.0,152.5L182.0,152.6L183.0,152.6L184.0,152.7L185.0,152.7L186.0,152.5L187.0,152.6L188.0,152.7L189.0,152.6L190.0,152.6L191.0,152.7L192.0,152.7L193.0,152.7L194.0,152.7L195.0,152.7L196.0,152.7L197.0,152.8L198.0,152.7L199.0,152.8L200.0,152.7L201.0,152.6L202.0,152.7L203.0,152.7L204.0,152.7L205.0,152.6L206.0,152.7L207.0,152.4L208.0,152.7L209.0,152.7L210.0,152.7L211.0,152.4L212.0,152.7L213.0,152.7L214.0,152.6L215.0,152.7L216.0,152.6L217.0,152.7L218.0,152.7L219.0,152.7L220.0,152.8L221.0,152.6L222.0,152.7L223.0,152.6L224.0,152.5L225.0,152.7L226.0,152.7L227.0,152.6L228.0,152.6L229.0,152.5L230.0,152.6L231.0,152.7L232.0,152.7L233.0,152.7L234.0,152.7L235.0,152.7L236.0,152.6L237.0,152.4L238.0,152.7L239.0,152.5L240.0,152.8L241.0,152.8L242.0,152.5L243.0,152.7L244.0,152.6L245.0,152.7L246.0,152.5L247.0,152.5L248.0,152.6L249.0,152.6L250.0,152.7L251.0,152.7L252.0,152.6L253.0,152.7L254.0,152.7L255.0,152.6L256.0,152.6L257.0,152.7L258.0,152.5L259.0,152.6L260.0,152.7L261.0,152.8L262.0,152.7L263.0,152.5L264.0,152.6L265.0,152.7L266.0,152.8L267.0,152.7L268.0,152.6L269.0,152.8L270.0,152.8L271.0,152.8L272.0,152.7L273.0,152.7L274.0,152.6L275.0,152.7L276.0,152.7L277.0,152.8L278.0,152.7L279.0,152.6L280.0,152.6L281.0,152.7L282.0,152.6L283.0,152.7L284.0,152.6L285.0,152.8L286.0,152.5L287.0,152.6L288.0,152.7L289.0,152.6L290.0,152.7L291.0,152.6L292.0,152.4L293.0,152.7L294.0,152.5L295.0,152.7L296.0,152.7L297.0,152.5L298.0,152.6L299.0,152.4L300.0,152.8L301.0,152.7L302.0,152.7L303.0,152.4L304.0,152.7L305.0,152.5L306.0,152.5L307.0,152.6L308.0,152.7L309.0,152.4L310.0,152.7L311.0,152.7L312.0,152.6L313.0,152.7L314.0,152.7L315.0,152.7L316.0,152.7L317.0,152.5L318.0,152.5L319.0,152.7L320.0,152.7L321.0,152.7L322.0,152.5L323.0,152.6L324.0,152.7L325.0,152.7L326.0,152.8L327.0,152.6L328.0,152.7L329.0,152.7L330.0,152.7L331.0,152.6L332.0,152.7L333.0,152.6L334.0,152.6L335.0,152.7L336.0,152.8L337.0,152.6L338.0,152.7L339.0,152.6L340.0,152.7L341.0,152.7L342.0,152.6L343.0,152.6L344.0,152.7L345.0,152.7L346.0,152.6L347.0,152.7L348.0,152.7L349.0,152.7L350.0,152.6L351.0,152.7L352.0,152.7L353.0,152.5L354.0,152.5L355.0,152.7L356.0,152.5L357.0,152.8L358.0,152.7L359.0,152.6L360.0,152.7L361.0,152.4L362.0,152.7L363.0,152.6L364.0,152.6L365.0,152.7L366.0,152.7L367.0,152.3L368.0,152.6L369.0,152.6L370.0,152.6L371.0,152.6L372.0,152.5L373.0,152.8L374.0,152.6L375.0,152.7L376.0,152.7L377.0,152.6L378.0,152.7L379.0,152.6L380.0,152.7L381.0,152.7L382.0,152.6L383.0,152.7L384.0,152.7L385.0,152.5L386.0,152.6L387.0,152.5L388.0,152.5L389.0,152.7L390.0,152.7L391.0,152.7L392.0,152.6L393.0,152.7L394.0,152.7L395.0,152.6L396.0,152.7L397.0,152.6L398.0,152.6L399.0,152.6L400.0,152.7L401.0,152.7L402.0,152.7L403.0,152.7L404.0,152.6L405.0,152.6L406.0,152.7L407.0,152.7L408.0,152.6L409.0,152.7L410.0,152.8L411.0,152.7L412.0,152.7L413.0,152.6L414.0,152.8L415.0,152.7L416.0,152.7L417.0,152.6L418.0,152.6L419.0,152.5L420.0,152.7L421.0,152.7L422.0,152.4L423.0,152.7L424.0,152.6L425.0,152.6L426.0,152.6L427.0,152.5L428.0,152.4L429.0,152.7L430.0,152.7L431.0,152.7L432.0,152.5L433.0,152.7L434.0,152.6L435.0,152.6L436.0,152.6L437.0,152.5L438.0,152.5L439.0,152.7L440.0,152.7L441.0,152.7L442.0,152.7L443.0,152.5L444.0,152.7L445.0,152.7L446.0,152.7L447.0,152.6L448.0,152.7L449.0,152.7L450.0,152.6L451.0,152.7L452.0,152.4L453.0,152.7L454.0,152.7L455.0,152.6L456.0,152.6L457.0,152.7L458.0,152.5L459.0,152.7L460.0,152.6L461.0,152.6L462.0,152.7L463.0,152.7L464.0,152.6L465.0,152.3L466.0,152.6L467.0,152.7L468.0,152.6L469.0,152.7L470.0,152.6L471.0,152.7L472.0,152.6L473.0,152.7L474.0,152.7L475.0,152.6L476.0,152.5L477.0,152.6L478.0,152.7L479.0,152.8L480.0,152.6L481.0,152.6L482.0,152.7L483.0,152.7L484.0,152.5L484.0,154.5L483.0,154.5L482.0,154.5L481.0,154.6L480.0,154.5L479.0,154.4L478.0,154.5L477.0,154.4L476.0,154.7L475.0,154.4L474.0,154.4L473.0,154.5L472.0,154.4L471.0,154.5L470.0,154.4L469.0,154.4L468.0,154.6L467.0,154.4L466.0,154.4L465.0,154.5L464.0,154.6L463.0,154.4L462.0,154.5L461.0,154.6L460.0,154.4L459.0,154.4L458.0,154.4L457.0,154.5L456.0,154.5L455.0,154.5L454.0,154.7L453.0,154.6L452.0,154.4L451.0,154.4L450.0,154.5L449.0,154.6L448.0,154.5L447.0,154.4L446.0,154.4L445.0,154.8L444.0,154.4L443.0,154.5L442.0,154.5L441.0,154.5L440.0,154.4L439.0,154.4L438.0,154.5L437.0,154.5L436.0,154.6L435.0,154.4L434.0,154.5L433.0,154.5L432.0,154.4L431.0,154.6L430.0,154.4L429.0,154.4L428.0,154.5L427.0,154.6L426.0,154.4L425.0,154.4L424.0,154.5L423.0,154.4L422.0,154.4L421.0,154.4L420.0,154.7L419.0,154.4L418.0,154.5L417.0,154.4L416.0,154.5L415.0,154.4L414.0,154.4L413.0,154.5L412.0,154.5L411.0,154.6L410.0,154.5L409.0,154.4L408.0,154.6L407.0,154.4L406.0,154.5L405.0,154.5L404.0,154.6L403.0,154.4L402.0,154.4L401.0,154.4L400.0,154.5L399.0,154.4L398.0,154.4L397.0,154.4L396.0,154.4L395.0,154.5L394.0,154.5L393.0,154.4L392.0,154.4L391.0,154.4L390.0,154.5L389.0,154.6L388.0,154.4L387.0,154.5L386.0,154.4L385.0,154.5L384.0,154.7L383.0,154.4L382.0,154.6L381.0,154.5L380.0,154.4L379.0,154.4L378.0,154.4L377.0,154.5L376.0,154.5L375.0,154.5L374.0,154.6L373.0,154.5L372.0,154.4L371.0,154.7L370.0,154.5L369.0,154.4L368.0,154.4L367.0,154.4L366.0,154.4L365.0,154.4L364.0,154.5L363.0,154.6L362.0,154.6L361.0,154.6L360.0,154.4L359.0,154.5L358.0,154.5L357.0,154.5L356.0,154.5L355.0,154.5L354.0,154.5L353.0,154.4L352.0,154.5L351.0,154.4L350.0,154.4L349.0,154.7L348.0,154.5L347.0,154.4L346.0,154.6L345.0,154.6L344.0,154.7L343.0,154.4L342.0,154.4L341.0,154.8L340.0,154.4L339.0,154.4L338.0,154.5L337.0,154.8L336.0,154.4L335.0,154.7L334.0,154.4L333.0,154.5L332.0,154.4L331.0,154.4L330.0,154.5L329.0,154.4L328.0,154.5L327.0,154.4L326.0,154.5L325.0,154.5L324.0,154.5L323.0,154.6L322.0,154.4L321.0,154.4L320.0,154.4L319.0,154.5L318.0,154.5L317.0,154.4L316.0,154.4L315.0,154.4L314.0,154.7L313.0,154.4L312.0,154.7L311.0,154.6L310.0,154.5L309.0,154.4L308.0,154.4L307.0,154.7L306.0,154.7L305.0,154.4L304.0,154.4L303.0,154.4L302.0,154.4L301.0,154.4L300.0,154.4L299.0,154.5L298.0,154.5L297.0,154.6L296.0,154.4L295.0,154.6L294.0,154.5L293.0,154.4L292.0,154.4L291.0,154.5L290.0,154.5L289.0,154.4L288.0,154.4L287.0,154.5L286.0,154.4L285.0,154.4L284.0,154.4L283.0,154.4L282.0,154.5L281.0,154.6L280.0,154.5L279.0,154.4L278.0,154.4L277.0,154.7L276.0,154.5L275.0,154.7L274.0,154.6L273.0,154.4L272.0,154.4L271.0,154.4L270.0,154.4L269.0,154.6L268.0,154.5L267.0,154.6L266.0,154.6L265.0,154.5L264.0,154.4L263.0,154.5L262.0,154.4L261.0,154.5L260.0,154.5L259.0,154.4L258.0,154.5L257.0,154.5L256.0,154.5L255.0,154.5L254.0,154.5L253.0,154.4L252.0,154.5L251.0,154.4L250.0,154.6L249.0,154.5L248.0,154.7L247.0,154.4L246.0,154.6L245.0,154.4L244.0,154.4L243.0,154.4L242.0,154.5L241.0,154.5L240.0,154.4L239.0,154.7L238.0,154.5L237.0,154.4L236.0,154.4L235.0,154.4L234.0,154.4L233.0,154.6L232.0,154.7L231.0,154.6L230.0,154.4L229.0,154.4L228.0,154.6L227.0,154.4L226.0,154.6L225.0,154.5L224.0,154.5L223.0,154.4L222.0,154.5L221.0,154.4L220.0,154.5L219.0,154.6L218.0,154.5L217.0,154.5L216.0,154.4L215.0,154.4L214.0,154.5L213.0,154.4L212.0,154.7L211.0,154.4L210.0,154.4L209.0,154.4L208.0,154.6L207.0,154.4L206.0,154.6L205.0,154.4L204.0,154.4L203.0,154.5L202.0,154.5L201.0,154.4L200.0,154.5L199.0,154.5L198.0,154.7L197.0,154.4L196.0,154.4L195.0,154.4L194.0,154.5L193.0,154.4L192.0,154.4L191.0,154.6L190.0,154.5L189.0,154.5L188.0,154.5L187.0,154.6L186.0,154.4L185.0,154.4L184.0,154.4L183.0,154.4L182.0,154.6L181.0,154.7L180.0,154.5L179.0,154.4L178.0,154.5L177.0,154.4L176.0,154.4L175.0,154.5L174.0,154.4L173.0,154.5L172.0,154.5L171.0,154.5L170.0,154.5L169.0,154.4L168.0,154.5L167.0,154.5L166.0,154.4L165.0,154.6L164.0,154.4L163.0,154.5L162.0,154.6L161.0,154.4L160.0,154.4L159.0,154.5L158.0,154.5L157.0,154.4L156.0,154.5L155.0,154.5L154.0,154.5L153.0,154.4L152.0,154.4L151.0,154.5L150.0,154.6L149.0,154.6L148.0,154.8L147.0,154.8L146.0,154.6L145.0,154.5L144.0,154.5L143.0,154.8L142.0,154.6L141.0,154.5L140.0,154.6L139.0,154.5L138.0,154.5L137.0,154.4L136.0,154.4L135.0,154.4L134.0,154.4L133.0,154.4L132.0,154.4L131.0,154.4L130.0,154.5L129.0,154.5L128.0,154.5L127.0,154.4L126.0,154.6L125.0,154.5L124.0,154.4L123.0,154.4L122.0,154.5L121.0,154.5L120.0,154.5L119.0,154.6L118.0,154.5L117.0,154.7L116.0,154.5L115.0,154.5L114.0,154.4L113.0,154.4L112.0,154.5L111.0,154.6L110.0,154.4L109.0,154.4L108.3,154.6L108.0,154.5L108.0,154.4L107.8,154.4L107.5,154.4L107.3,154.4L107.0,154.5L107.0,154.6L106.8,154.6L106.5,154.6L106.3,154.7L106.0,154.9L106.0,154.8L105.8,155.0L105.5,155.0L105.3,155.2L105.0,155.4L105.0,155.1L104.8,155.2L104.5,155.4L104.3,155.5L104.0,155.7L104.0,155.5L103.8,155.6L103.5,155.9L103.3,156.0L103.0,156.0L103.0,156.0L102.8,156.1L102.5,156.2L102.3,156.3L102.0,156.6L102.0,156.4L101.8,156.6L101.5,156.7L101.3,156.8L101.0,157.2L101.0,156.9L100.8,156.9L100.5,157.2L100.3,157.2L100.0,157.4L100.0,157.4L99.8,157.5L99.5,157.6L99.3,157.9L99.0,158.1L99.0,158.3L98.8,158.2L98.5,158.4L98.3,158.4L98.0,158.6L98.0,158.6L97.8,158.8L97.5,158.8L97.3,159.0L97.0,159.2L97.0,159.2L96.8,159.4L96.5,159.5L96.3,159.6L96.0,159.9L96.0,159.9L95.8,160.1L95.5,160.1L95.3,160.3L95.0,160.6L95.0,160.7L94.8,160.7L94.5,161.0L94.3,161.2L94.0,161.4L94.0,161.3L93.8,161.5L93.5,161.7L93.3,161.9L93.0,162.2L93.0,162.1L92.8,162.2L92.5,162.5L92.3,162.7L92.0,162.9L92.0,162.9L91.8,163.4L91.5,163.4L91.3,163.8L91.0,164.0L91.0,164.0L90.8,164.1L90.5,164.6L90.3,164.5L90.0,164.9L90.0,164.8L89.8,165.1L89.5,165.4L89.3,165.6L89.0,165.9L89.0,166.0L88.8,166.3L88.5,166.4L88.3,166.8L88.0,167.1L88.0,167.1L87.8,167.6L87.5,167.7L87.3,167.9L87.0,168.2L87.0,168.3L86.8,168.5L86.5,168.8L86.3,169.2L86.0,169.6L86.0,169.8L85.8,169.9L85.5,170.2L85.3,170.6L85.0,171.1L85.0,171.0L84.8,171.3L84.5,171.8L84.3,172.0L84.0,172.5L84.0,172.4L83.8,172.8L83.5,173.3L83.3,173.8L83.0,174.1L83.0,174.0L82.8,174.4L82.5,175.0L82.3,175.4L82.0,175.7L82.0,175.7L81.8,176.1L81.5,176.6L81.3,177.1L81.0,177.6L81.0,177.6L80.8,177.9L80.5,178.5L80.3,178.9L80.0,179.3L80.0,179.4L79.8,179.9L79.5,180.2L79.3,180.8L79.0,181.2L79.0,181.2L78.8,181.6L78.5,182.1L78.3,182.5L78.0,183.1L78.0,183.2L77.8,183.6L77.5,184.1L77.3,184.8L77.0,184.8L76.0,185.0L75.0,184.7L74.0,184.8L73.0,184.7L72.0,184.9L71.0,185.0Z" fill="#ff00ff" stroke="#ff00ff" stroke-width="1.4" stroke-linejoin="round"/>
<path d="M71.0,184.5L72.0,184.3L73.0,184.3L74.0,184.4L75.0,184.3L76.0,184.4L77.0,184.3L77.3,184.4L77.5,182.9L77.8,181.9L78.0,180.6L78.0,180.5L78.3,179.2L78.5,177.8L78.8,176.5L79.0,175.5L79.0,175.3L79.3,174.1L79.5,173.0L79.8,171.7L80.0,170.8L80.0,170.5L80.3,169.5L80.5,168.3L80.8,167.2L81.0,166.3L81.0,166.2L81.3,165.1L81.5,164.3L81.8,163.4L82.0,162.6L82.0,162.4L82.3,161.3L82.5,160.5L82.8,159.6L83.0,158.8L83.0,158.6L83.3,157.9L83.5,156.8L83.8,156.2L84.0,155.5L84.0,155.4L84.3,154.4L84.5,153.6L84.8,152.9L85.0,152.3L85.0,152.1L85.3,151.5L85.5,150.6L85.8,149.9L86.0,149.2L86.0,149.1L86.3,148.5L86.5,147.7L86.8,147.0L87.0,146.4L87.0,146.5L87.3,145.7L87.5,145.2L87.8,144.5L88.0,143.8L88.0,143.9L88.3,143.3L88.5,142.7L88.8,141.8L89.0,141.5L89.0,141.4L89.3,140.9L89.5,140.4L89.8,139.7L90.0,139.3L90.0,139.0L90.3,138.6L90.5,138.0L90.8,137.6L91.0,137.1L91.0,137.1L91.3,136.6L91.5,135.9L91.8,135.4L92.0,135.2L92.0,135.2L92.3,134.7L92.5,134.2L92.8,133.7L93.0,133.2L93.0,133.2L93.3,132.8L93.5,132.4L93.8,132.0L94.0,131.6L94.0,131.4L94.3,131.2L94.5,130.7L94.8,130.3L95.0,129.9L95.0,129.8L95.3,129.4L95.5,129.2L95.8,128.7L96.0,128.3L96.0,128.4L96.3,128.0L96.5,127.5L96.8,127.1L97.0,127.1L97.0,127.0L97.3,126.5L97.5,126.3L97.8,125.9L98.0,125.4L98.0,125.5L98.3,125.4L98.5,124.9L98.8,124.6L99.0,124.5L99.0,124.4L99.3,123.8L99.5,123.7L99.8,123.6L100.0,123.2L100.0,123.3L100.3,122.8L100.5,122.7L100.8,122.5L101.0,122.2L101.0,122.0L101.3,121.8L101.5,121.6L101.8,121.4L102.0,121.1L102.0,121.2L102.3,120.9L102.5,120.7L102.8,120.5L103.0,120.2L103.0,120.0L103.3,119.7L103.5,119.7L103.8,119.5L104.0,119.4L104.0,119.2L104.3,119.1L104.5,118.9L104.8,118.7L105.0,118.5L105.0,118.4L105.3,118.2L105.5,118.0L105.8,117.9L106.0,117.8L106.0,117.6L106.3,117.6L106.5,117.2L106.8,117.1L107.0,117.0L107.0,117.0L107.3,116.9L107.5,116.9L107.8,116.8L108.0,116.7L108.0,116.9L108.3,116.7L109.0,116.8L110.0,116.7L111.0,116.8L112.0,116.7L113.0,116.7L114.0,116.8L115.0,116.9L116.0,116.9L117.0,116.7L118.0,116.9L119.0,116.9L120.0,116.9L121.0,116.8L122.0,116.9L123.0,117.0L124.0,116.9L125.0,116.9L126.0,116.7L127.0,116.9L128.0,116.9L129.0,116.9L130.0,116.8L131.0,116.7L132.0,116.8L133.0,116.8L134.0,116.9L135.0,116.9L136.0,116.7L137.0,116.6L138.0,116.9L139.0,116.8L140.0,116.8L141.0,116.9L142.0,116.9L143.0,116.7L144.0,116.8L145.0,116.7L146.0,116.8L147.0,116.7L148.0,116.9L149.0,116.6L150.0,116.7L151.0,116.9L152.0,116.8L153.0,116.9L154.0,116.9L155.0,116.9L156.0,116.7L157.0,116.7L158.0,116.6L159.0,116.8L160.0,116.7L161.0,116.9L162.0,116.8L163.0,117.0L164.0,116.9L165.0,116.9L166.0,116.9L167.0,116.9L168.0,116.9L169.0,116.9L170.0,116.8L171.0,116.9L172.0,116.9L173.0,116.8L174.0,116.9L175.0,116.9L176.0,116.9L177.0,116.9L178.0,116.8L179.0,116.9L180.0,116.7L181.0,116.8L182.0,116.9L183.0,116.9L184.0,116.8L185.0,116.9L186.0,116.9L187.0,116.7L188.0,116.7L189.0,116.9L190.0,116.8L191.0,116.8L192.0,116.8L193.0,116.8L194.0,116.9L195.0,116.9L196.0,116.9L197.0,116.8L198.0,116.9L199.0,116.6L200.0,116.8L201.0,116.7L202.0,116.9L203.0,116.9L204.0,116.8L205.0,116.9L206.0,116.9L207.0,116.9L208.0,116.9L209.0,116.9L210.0,116.9L211.0,116.8L212.0,117.0L213.0,116.9L214.0,116.9L215.0,116.8L216.0,116.7L217.0,116.9L218.0,116.9L219.0,116.6L220.0,116.9L221.0,116.9L222.0,116.6L223.0,116.9L224.0,116.9L225.0,116.8L226.0,116.9L227.0,116.8L228.0,116.8L229.0,116.7L230.0,116.9L231.0,116.7L232.0,116.9L233.0,116.9L234.0,116.9L235.0,116.8L236.0,116.9L237.0,116.9L238.0,116.8L239.0,116.9L240.0,116.8L241.0,116.8L242.0,116.7L243.0,116.8L244.0,116.7L245.0,116.8L246.0,116.9L247.0,116.8L248.0,116.8L249.0,116.8L250.0,116.9L251.0,116.9L252.0,116.8L253.0,116.9L254.0,116.9L255.0,116.9L256.0,116.8L257.0,116.6L258.0,116.9L259.0,116.9L260.0,116.9L261.0,116.9L262.0,116.9L263.0,116.8L264.0,116.9L265.0,116.9L266.0,116.8L267.0,116.9L268.0,116.9L269.0,116.8L270.0,116.8L271.0,116.9L272.0,116.8L273.0,116.9L274.0,116.7L275.0,116.9L276.0,116.9L277.0,116.7L278.0,116.9L279.0,116.7L280.0,116.9L281.0,116.8L282.0,116.8L283.0,117.0L284.0,116.9L285.0,116.9L286.0,116.9L287.0,116.9L288.0,116.9L289.0,116.9L290.0,116.8L291.0,116.9L292.0,116.8L293.0,116.8L294.0,116.6L295.0,116.9L296.0,116.6L297.0,116.9L298.0,116.8L299.0,117.0L300.0,116.8L301.0,116.9L302.0,116.9L303.0,116.9L304.0,116.9L305.0,116.5L306.0,116.9L307.0,116.9L308.0,116.9L309.0,116.9L310.0,116.9L311.0,116.8L312.0,116.9L313.0,116.7L314.0,116.9L315.0,116.9L316.0,116.9L317.0,116.7L318.0,116.9L319.0,116.8L320.0,116.9L321.0,116.7L322.0,116.9L323.0,116.9L324.0,116.8L325.0,116.9L326.0,116.8L327.0,116.8L328.0,116.6L329.0,116.9L330.0,116.7L331.0,116.9L332.0,116.8L333.0,116.9L334.0,116.9L335.0,116.8L336.0,116.7L337.0,116.8L338.0,116.8L339.0,116.8L340.0,116.8L341.0,116.8L342.0,116.9L343.0,116.9L344.0,116.9L345.0,116.8L346.0,116.8L347.0,117.0L348.0,116.9L349.0,116.9L350.0,116.9L351.0,116.8L352.0,116.8L353.0,116.8L354.0,116.8L355.0,116.9L356.0,116.9L357.0,116.5L358.0,116.8L359.0,116.9L360.0,116.9L361.0,116.9L362.0,116.7L363.0,116.9L364.0,116.9L365.0,116.7L366.0,116.9L367.0,116.8L368.0,116.7L369.0,116.8L370.0,116.6L371.0,116.9L372.0,116.8L373.0,116.8L374.0,116.7L375.0,116.7L376.0,116.7L377.0,116.9L378.0,116.7L379.0,116.9L380.0,116.7L381.0,116.9L382.0,116.8L383.0,116.6L384.0,116.7L385.0,116.8L386.0,116.9L387.0,116.9L388.0,116.9L389.0,116.8L390.0,116.9L391.0,116.6L392.0,116.9L393.0,116.9L394.0,116.6L395.0,116.8L396.0,116.9L397.0,116.9L398.0,116.8L399.0,116.9L400.0,116.7L401.0,116.7L402.0,116.9L403.0,116.8L404.0,116.9L405.0,116.8L406.0,116.9L407.0,116.9L408.0,116.8L409.0,116.9L410.0,116.9L411.0,116.8L412.0,116.8L413.0,116.8L414.0,116.8L415.0,116.8L416.0,116.8L417.0,116.9L418.0,116.8L419.0,116.7L420.0,116.9L421.0,116.8L422.0,116.8L423.0,116.9L424.0,116.9L425.0,116.7L426.0,116.7L427.0,116.6L428.0,116.9L429.0,116.9L430.0,116.8L431.0,117.0L432.0,116.9L433.0,116.8L434.0,116.8L435.0,116.8L436.0,116.9L437.0,116.7L438.0,116.8L439.0,116.8L440.0,116.8L441.0,116.7L442.0,116.9L443.0,116.8L444.0,116.8L445.0,116.9L446.0,116.9L447.0,116.6L448.0,116.9L449.0,116.9L450.0,116.8L451.0,116.9L452.0,116.8L453.0,116.8L454.0,117.0L455.0,116.9L456.0,116.6L457.0,116.7L458.0,116.8L459.0,116.8L460.0,116.7L461.0,116.7L462.0,116.9L463.0,116.9L464.0,116.9L465.0,116.8L466.0,116.9L467.0,116.8L468.0,116.5L469.0,116.9L470.0,116.8L471.0,116.9L472.0,116.9L473.0,116.7L474.0,116.7L475.0,116.8L476.0,116.8L477.0,116.8L478.0,116.9L479.0,116.9L480.0,116.9L481.0,116.8L482.0,116.9L483.0,116.9L484.0,116.9L484.0,119.4L483.0,119.5L482.0,119.5L481.0,119.4L480.0,119.4L479.0,119.4L478.0,119.4L477.0,119.4L476.0,119.5L475.0,119.4L474.0,119.4L473.0,119.5L472.0,119.4L471.0,119.4L470.0,119.4L469.0,119.4L468.0,119.4L467.0,119.6L466.0,119.4L465.0,119.5L464.0,119.4L463.0,119.4L462.0,119.5L461.0,119.5L460.0,119.5L459.0,119.4L458.0,119.5L457.0,119.4L456.0,119.4L455.0,119.4L454.0,119.6L453.0,119.4L452.0,119.5L451.0,119.4L450.0,119.5L449.0,119.4L448.0,119.4L447.0,119.6L446.0,119.5L445.0,119.5L444.0,119.4L443.0,119.4L442.0,119.4L441.0,119.4L440.0,119.5L439.0,119.5L438.0,119.5L437.0,119.6L436.0,119.4L435.0,119.4L434.0,119.6L433.0,119.4L432.0,119.5L431.0,119.4L430.0,119.4L429.0,119.5L428.0,119.5L427.0,119.5L426.0,119.4L425.0,119.4L424.0,119.5L423.0,119.5L422.0,119.6L421.0,119.5L420.0,119.5L419.0,119.6L418.0,119.5L417.0,119.6L416.0,119.5L415.0,119.5L414.0,119.4L413.0,119.5L412.0,119.6L411.0,119.5L410.0,119.5L409.0,119.6L408.0,119.6L407.0,119.4L406.0,119.8L405.0,119.5L404.0,119.4L403.0,119.5L402.0,119.4L401.0,119.4L400.0,119.4L399.0,119.4L398.0,119.6L397.0,119.4L396.0,119.7L395.0,119.4L394.0,119.4L393.0,119.4L392.0,119.5L391.0,119.4L390.0,119.4L389.0,119.4L388.0,119.5L387.0,119.5L386.0,119.7L385.0,119.6L384.0,119.7L383.0,119.5L382.0,119.4L381.0,119.5L380.0,119.6L379.0,119.4L378.0,119.4L377.0,119.4L376.0,119.4L375.0,119.5L374.0,119.4L373.0,119.5L372.0,119.4L371.0,119.4L370.0,119.4L369.0,119.6L368.0,119.4L367.0,119.5L366.0,119.6L365.0,119.4L364.0,119.4L363.0,119.4L362.0,119.5L361.0,119.5L360.0,119.7L359.0,119.4L358.0,119.5L357.0,119.6L356.0,119.4L355.0,119.6L354.0,119.4L353.0,119.6L352.0,119.5L351.0,119.4L350.0,119.5L349.0,119.5L348.0,119.5L347.0,119.5L346.0,119.4L345.0,119.5L344.0,119.4L343.0,119.6L342.0,119.4L341.0,119.7L340.0,119.7L339.0,119.5L338.0,119.5L337.0,119.4L336.0,119.5L335.0,119.4L334.0,119.4L333.0,119.4L332.0,119.4L331.0,119.6L330.0,119.6L329.0,119.7L328.0,119.5L327.0,119.4L326.0,119.5L325.0,119.4L324.0,119.6L323.0,119.4L322.0,119.4L321.0,119.5L320.0,119.5L319.0,119.4L318.0,119.4L317.0,119.4L316.0,119.5L315.0,119.5L314.0,119.4L313.0,119.6L312.0,119.6L311.0,119.4L310.0,119.4L309.0,119.4L308.0,119.4L307.0,119.5L306.0,119.6L305.0,119.6L304.0,119.4L303.0,119.6L302.0,119.5L301.0,119.4L300.0,119.6L299.0,119.4L298.0,119.6L297.0,119.6L296.0,119.4L295.0,119.5L294.0,119.4L293.0,119.5L292.0,119.5L291.0,119.4L290.0,119.5L289.0,119.4L288.0,119.5L287.0,119.5L286.0,119.6L285.0,119.4L284.0,119.5L283.0,119.4L282.0,119.5L281.0,119.5L280.0,119.4L279.0,119.4L278.0,119.5L277.0,119.6L276.0,119.6L275.0,119.4L274.0,119.5L273.0,119.5L272.0,119.4L271.0,119.5L270.0,119.6L269.0,119.6L268.0,119.4L267.0,119.5L266.0,119.7L265.0,119.5L264.0,119.4L263.0,119.4L262.0,119.5L261.0,119.4L260.0,119.4L259.0,119.4L258.0,119.7L257.0,119.5L256.0,119.6L255.0,119.5L254.0,119.4L253.0,119.4L252.0,119.6L251.0,119.5L250.0,119.4L249.0,119.7L248.0,119.6L247.0,119.5L246.0,119.4L245.0,119.5L244.0,119.5L243.0,119.4L242.0,119.5L241.0,119.4L240.0,119.6L239.0,119.7L238.0,119.5L237.0,119.7L236.0,119.5L235.0,119.4L234.0,119.5L233.0,119.4L232.0,119.4L231.0,119.4L230.0,119.5L229.0,119.4L228.0,119.4L227.0,119.4L226.0,119.5L225.0,119.6L224.0,119.4L223.0,119.5L222.0,119.4L221.0,119.4L220.0,119.5L219.0,119.7L218.0,119.4L217.0,119.4L216.0,119.4L215.0,119.4L214.0,119.5L213.0,119.4L212.0,119.4L211.0,119.4L210.0,119.4L209.0,119.4L208.0,119.4L207.0,119.4L206.0,119.4L205.0,119.4L204.0,119.4L203.0,119.5L202.0,119.5L201.0,119.4L200.0,119.4L199.0,119.5L198.0,119.5L197.0,119.4L196.0,119.4L195.0,119.4L194.0,119.6L193.0,119.6L192.0,119.4L191.0,119.4L190.0,119.4L189.0,119.5L188.0,119.4L187.0,119.6L186.0,119.4L185.0,119.4L184.0,119.4L183.0,119.4L182.0,119.4L181.0,119.4L180.0,119.6L179.0,119.4L178.0,119.5L177.0,119.4L176.0,119.5L175.0,119.5L174.0,119.5L173.0,119.5L172.0,119.4L171.0,119.5L170.0,119.4L169.0,119.5L168.0,119.5L167.0,119.4L166.0,119.6L165.0,119.5L164.0,119.4L163.0,119.6L162.0,119.5L161.0,119.4L160.0,119.5L159.0,119.4L158.0,119.5L157.0,119.7L156.0,119.4L155.0,119.5L154.0,119.4L153.0,119.5L152.0,119.4L151.0,119.4L150.0,119.5L149.0,119.5L148.0,119.4L147.0,119.5L146.0,119.6L145.0,119.4L144.0,119.5L143.0,119.6L142.0,119.4L141.0,119.4L140.0,119.4L139.0,119.5L138.0,119.4L137.0,119.4L136.0,119.5L135.0,119.5L134.0,119.5L133.0,119.7L132.0,119.5L131.0,119.5L130.0,119.5L129.0,119.7L128.0,119.4L127.0,119.5L126.0,119.6L125.0,119.4L124.0,119.4L123.0,119.4L122.0,119.4L121.0,119.4L120.0,119.5L119.0,119.4L118.0,119.5L117.0,119.5L116.0,119.4L115.0,119.4L114.0,119.7L113.0,119.4L112.0,119.7L111.0,119.5L110.0,119.5L109.0,119.4L108.3,119.4L108.0,119.7L108.0,119.6L107.8,119.5L107.5,119.6L107.3,119.5L107.0,119.6L107.0,119.6L106.8,119.6L106.5,119.9L106.3,120.0L106.0,120.2L106.0,120.4L105.8,120.6L105.5,120.6L105.3,120.9L105.0,121.1L105.0,121.1L104.8,121.2L104.5,121.5L104.3,121.6L104.0,122.0L104.0,121.9L103.8,122.2L103.5,122.3L103.3,122.5L103.0,122.7L103.0,122.7L102.8,123.0L102.5,123.3L102.3,123.4L102.0,123.8L102.0,123.7L101.8,123.9L101.5,124.5L101.3,124.5L101.0,124.7L101.0,124.9L100.8,124.9L100.5,125.2L100.3,125.5L100.0,125.7L100.0,125.9L99.8,126.2L99.5,126.4L99.3,126.8L99.0,126.9L99.0,127.0L98.8,127.2L98.5,127.5L98.3,128.0L98.0,128.1L98.0,128.4L97.8,128.5L97.5,128.9L97.3,129.1L97.0,129.7L97.0,129.5L96.8,129.8L96.5,130.2L96.3,130.5L96.0,130.9L96.0,131.1L95.8,131.3L95.5,131.8L95.3,132.1L95.0,132.4L95.0,132.5L94.8,132.8L94.5,133.2L94.3,133.7L94.0,134.2L94.0,134.1L93.8,134.4L93.5,134.9L93.3,135.5L93.0,135.8L93.0,136.0L92.8,136.3L92.5,136.7L92.3,137.1L92.0,137.7L92.0,137.8L91.8,138.3L91.5,138.7L91.3,139.3L91.0,139.7L91.0,139.8L90.8,140.2L90.5,140.7L90.3,141.1L90.0,141.8L90.0,141.8L89.8,142.3L89.5,143.0L89.3,143.7L89.0,144.1L89.0,144.0L88.8,144.8L88.5,145.1L88.3,145.8L88.0,146.5L88.0,146.5L87.8,147.3L87.5,147.6L87.3,148.4L87.0,149.0L87.0,149.1L86.8,149.7L86.5,150.5L86.3,151.1L86.0,151.7L86.0,152.0L85.8,152.5L85.5,153.4L85.3,153.9L85.0,154.8L85.0,154.8L84.8,155.7L84.5,156.3L84.3,157.2L84.0,158.1L84.0,158.0L83.8,158.7L83.5,159.7L83.3,160.6L83.0,161.3L83.0,161.4L82.8,162.1L82.5,163.0L82.3,163.9L82.0,165.1L82.0,165.3L81.8,165.8L81.5,167.0L81.3,167.8L81.0,169.0L81.0,169.1L80.8,169.7L80.5,170.8L80.3,171.8L80.0,172.8L80.0,172.8L79.8,173.7L79.5,174.7L79.3,175.7L79.0,176.9L79.0,176.9L78.8,177.8L78.5,179.0L78.3,180.0L78.0,181.1L78.0,181.3L77.8,182.3L77.5,183.5L77.3,184.7L77.0,184.8L76.0,184.7L75.0,184.8L74.0,185.1L73.0,184.7L72.0,184.9L71.0,184.8Z" fill="#0000ff" stroke="#0000ff" stroke-width="1.4" stroke-linejoin="round"/>
<rect x="70.5" y="23.5" width="414.0" height="162.0" fill="none" class="a"/>
<line x1="77.5" y1="23.5" x2="77.5" y2="28.0" class="a"/>
<line x1="77.5" y1="185.5" x2="77.5" y2="181.0" class="a"/>
<line x1="145.5" y1="23.5" x2="145.5" y2="28.0" class="a"/>
<line x1="145.5" y1="185.5" x2="145.5" y2="181.0" class="a"/>
<line x1="213.5" y1="23.5" x2="213.5" y2="28.0" class="a"/>
<line x1="213.5" y1="185.5" x2="213.5" y2="181.0" class="a"/>
<line x1="280.5" y1="23.5" x2="280.5" y2="28.0" class="a"/>
<line x1="280.5" y1="185.5" x2="280.5" y2="181.0" class="a"/>
<line x1="348.5" y1="23.5" x2="348.5" y2="28.0" class="a"/>
<line x1="348.5" y1="185.5" x2="348.5" y2="181.0" class="a"/>
<line x1="416.5" y1="23.5" x2="416.5" y2="28.0" class="a"/>
<line x1="416.5" y1="185.5" x2="416.5" y2="181.0" class="a"/>
<line x1="70.5" y1="146.5" x2="75.0" y2="146.5" class="a"/>
<line x1="484.5" y1="146.5" x2="480.0" y2="146.5" class="a"/>
<line x1="70.5" y1="108.5" x2="75.0" y2="108.5" class="a"/>
<line x1="484.5" y1="108.5" x2="480.0" y2="108.5" class="a"/>
<line x1="70.5" y1="69.5" x2="75.0" y2="69.5" class="a"/>
<line x1="484.5" y1="69.5" x2="480.0" y2="69.5" class="a"/>
<line x1="70.5" y1="31.5" x2="75.0" y2="31.5" class="a"/>
<line x1="484.5" y1="31.5" x2="480.0" y2="31.5" class="a"/>
<line x1="109.5" y1="90.2" x2="109.5" y2="177.29999999999998" stroke="#000" stroke-width="1.45" stroke-dasharray="6.3 1.3 1.5 1.3" stroke-dashoffset="0.8"/><path d="M109.5,184.1 L105.5,174.29999999999998 Q108.5,176.49999999999997 109.5,176.89999999999998 Q110.5,176.49999999999997 113.5,174.29999999999998 Z" fill="#000"/>
<text x="104.1" y="83.4" class="at it" style="font-size:21px">t</text>
<text x="111.1" y="86.7" class="as" textLength="49.8" lengthAdjust="spacing">charging</text>
<text x="168.1" y="85.3" class="at" textLength="14.8" lengthAdjust="spacingAndGlyphs">=</text>
<text x="188.6" y="83.4" class="an" textLength="23.4" lengthAdjust="spacing">2.2</text>
<text x="219.0" y="83.4" class="at">s</text>
<text x="309.3" y="85.9" class="at" style="word-spacing:1.6px" textLength="170.4" lengthAdjust="spacingAndGlyphs">with voltage sensing</text>
<rect x="130.5" y="13.5" width="293" height="25" fill="#fff" class="a"/>
<line x1="133.1" y1="26.2" x2="160.4" y2="26.2" stroke="#ff0000" stroke-width="1.15"/>
<text transform="translate(162.9 31.0) scale(1.12 1)" class="lv">v</text>
<text x="172.3" y="33.2" class="ls" textLength="28.8" lengthAdjust="spacing">Cap1</text>
<line x1="205.9" y1="26.2" x2="233.2" y2="26.2" stroke="#0000ff" stroke-width="1.15"/>
<text transform="translate(235.8 31.0) scale(1.12 1)" class="lv">v</text>
<text x="245.1" y="33.2" class="ls" textLength="28.8" lengthAdjust="spacing">Cap2</text>
<line x1="278.8" y1="26.2" x2="306.1" y2="26.2" stroke="#ff00ff" stroke-width="1.15"/>
<text transform="translate(308.6 31.0) scale(1.12 1)" class="lv">v</text>
<text x="318.0" y="33.2" class="ls" textLength="28.8" lengthAdjust="spacing">Cap3</text>
<line x1="351.6" y1="26.2" x2="378.9" y2="26.2" stroke="#ff9d0a" stroke-width="1.15"/>
<text transform="translate(381.4 31.0) scale(1.12 1)" class="lv">v</text>
<text x="390.8" y="33.2" class="ls" textLength="28.8" lengthAdjust="spacing">Cap4</text>
<text transform="translate(77.3 207.8) scale(0.92 1)" class="tk" text-anchor="middle">0</text>
<text transform="translate(145.2 207.8) scale(0.92 1)" class="tk" text-anchor="middle">5</text>
<text transform="translate(213.0 207.8) scale(0.92 1)" class="tk" text-anchor="middle">10</text>
<text transform="translate(280.9 207.8) scale(0.92 1)" class="tk" text-anchor="middle">15</text>
<text transform="translate(348.8 207.8) scale(0.92 1)" class="tk" text-anchor="middle">20</text>
<text transform="translate(416.6 207.8) scale(0.92 1)" class="tk" text-anchor="middle">25</text>
<text transform="translate(484.5 207.8) scale(0.92 1)" class="tk" text-anchor="middle">30</text>
<text transform="translate(65.1 192.0) scale(0.92 1)" class="tk" text-anchor="end">0</text>
<text transform="translate(65.1 153.4) scale(0.92 1)" class="tk" text-anchor="end">50</text>
<text transform="translate(65.1 114.9) scale(0.92 1)" class="tk" text-anchor="end">100</text>
<text transform="translate(65.1 76.3) scale(0.92 1)" class="tk" text-anchor="end">150</text>
<text transform="translate(65.1 37.7) scale(0.92 1)" class="tk" text-anchor="end">200</text>
<text x="240.0" y="228" class="lb" textLength="43" lengthAdjust="spacing">Time</text>
<text x="291.3" y="228" class="lb it">t</text>
<text x="298.0" y="228" class="lb" textLength="16.2" lengthAdjust="spacingAndGlyphs">[s]</text>
<text transform="translate(29.1,104.9) rotate(-90)" class="lb" text-anchor="middle" textLength="92" lengthAdjust="spacing">Voltage [V]</text>
<text x="253.8" y="267.6" class="cap" text-anchor="middle">a</text>
</g>
<g id="panel-b">
<line x1="578.5" y1="23.5" x2="578.5" y2="185.5" class="g"/>
<line x1="646.5" y1="23.5" x2="646.5" y2="185.5" class="g"/>
<line x1="713.5" y1="23.5" x2="713.5" y2="185.5" class="g"/>
<line x1="781.5" y1="23.5" x2="781.5" y2="185.5" class="g"/>
<line x1="849.5" y1="23.5" x2="849.5" y2="185.5" class="g"/>
<line x1="917.5" y1="23.5" x2="917.5" y2="185.5" class="g"/>
<line x1="571.5" y1="146.5" x2="985.0" y2="146.5" class="g"/>
<line x1="571.5" y1="108.5" x2="985.0" y2="108.5" class="g"/>
<line x1="571.5" y1="69.5" x2="985.0" y2="69.5" class="g"/>
<line x1="571.5" y1="31.5" x2="985.0" y2="31.5" class="g"/>
<path d="M572.0,180.5L573.0,180.3L574.0,180.2L575.0,180.4L576.0,180.4L577.0,180.5L578.0,180.4L579.0,178.3L580.0,176.1L581.0,173.9L582.0,171.7L583.0,169.4L584.0,167.0L585.0,165.1L586.0,163.7L587.0,162.1L588.0,160.0L589.0,157.8L590.0,155.4L591.0,153.5L592.0,152.4L593.0,150.7L594.0,149.1L595.0,147.5L596.0,146.0L597.0,144.1L598.0,142.2L599.0,140.3L600.0,139.3L601.0,137.6L602.0,136.2L603.0,134.6L604.0,133.1L605.0,131.4L606.0,129.8L607.0,128.0L608.0,126.8L609.0,125.7L610.0,124.1L611.0,122.4L612.0,121.4L613.0,120.8L614.0,119.6L615.0,118.2L616.0,117.1L617.0,116.0L618.0,114.3L619.0,113.2L620.0,112.7L621.0,111.7L622.0,110.5L623.0,109.6L624.0,108.4L625.0,107.7L626.0,106.6L627.0,105.5L628.0,104.4L629.0,103.1L630.0,102.2L631.0,102.0L632.0,102.0L633.0,100.9L634.0,99.7L635.0,98.8L636.0,98.0L637.0,97.3L638.0,96.0L639.0,95.9L640.0,95.1L641.0,95.0L642.0,94.2L643.0,93.5L644.0,93.0L645.0,92.2L646.0,91.4L647.0,90.6L648.0,89.7L649.0,89.4L650.0,88.9L651.0,87.8L652.0,87.4L653.0,86.8L654.0,86.9L655.0,86.0L656.0,85.1L657.0,84.3L658.0,84.0L659.0,83.5L660.0,82.8L661.0,82.4L662.0,81.8L663.0,80.9L664.0,80.4L665.0,79.9L666.0,79.4L667.0,78.8L668.0,77.8L669.0,77.1L670.0,76.6L671.0,75.9L672.0,75.5L673.0,75.0L674.0,74.3L675.0,74.0L676.0,74.4L677.0,74.5L678.0,74.7L679.0,75.0L680.0,74.5L681.0,73.4L682.0,73.1L683.0,72.9L684.0,72.1L685.0,72.0L686.0,72.1L687.0,71.5L688.0,71.1L689.0,71.3L690.0,71.4L691.0,70.7L692.0,70.3L693.0,70.2L694.0,69.6L695.0,68.9L696.0,68.0L697.0,67.3L698.0,66.6L699.0,66.5L700.0,66.4L701.0,66.0L702.0,65.6L703.0,65.2L704.0,64.6L705.0,64.9L706.0,65.1L707.0,64.1L708.0,63.9L709.0,63.9L710.0,63.8L711.0,63.3L712.0,62.6L713.0,62.3L714.0,62.1L715.0,61.7L716.0,61.3L717.0,61.7L718.0,62.4L719.0,62.2L720.0,61.5L721.0,61.0L722.0,60.7L723.0,60.2L724.0,60.0L725.0,60.2L726.0,60.0L727.0,59.5L728.0,59.6L729.0,59.2L730.0,58.6L731.0,58.7L732.0,58.9L733.0,58.7L734.0,58.2L735.0,58.2L736.0,57.9L737.0,57.9L738.0,57.7L739.0,57.5L740.0,57.4L741.0,57.4L742.0,57.3L743.0,56.9L744.0,57.1L745.0,56.9L746.0,56.8L747.0,56.8L748.0,56.5L749.0,55.9L750.0,56.1L751.0,56.2L752.0,56.3L753.0,56.1L754.0,55.9L755.0,56.0L756.0,55.9L757.0,55.7L758.0,55.4L759.0,55.4L760.0,55.5L761.0,55.1L762.0,54.7L763.0,54.9L764.0,55.1L765.0,55.1L766.0,55.1L767.0,55.2L768.0,55.2L769.0,54.9L770.0,54.6L771.0,54.2L772.0,54.0L773.0,54.2L774.0,54.0L775.0,54.7L776.0,55.3L777.0,55.0L778.0,54.0L779.0,53.5L780.0,54.0L781.0,54.0L782.0,53.6L783.0,53.3L784.0,53.0L785.0,53.3L786.0,53.9L787.0,54.4L788.0,53.8L789.0,53.8L790.0,53.4L791.0,53.1L792.0,52.9L793.0,52.9L794.0,53.3L795.0,53.3L796.0,52.9L797.0,52.9L798.0,52.4L799.0,52.1L800.0,52.3L801.0,52.5L802.0,52.6L803.0,52.8L804.0,52.7L805.0,52.5L806.0,52.7L807.0,52.8L808.0,52.5L809.0,52.3L810.0,52.3L811.0,52.4L812.0,52.1L813.0,52.1L814.0,52.2L815.0,51.8L816.0,51.3L817.0,51.7L818.0,52.0L819.0,51.8L820.0,51.8L821.0,52.1L822.0,52.1L823.0,52.0L824.0,52.1L825.0,52.1L826.0,52.2L827.0,52.0L828.0,52.0L829.0,51.8L830.0,51.8L831.0,52.0L832.0,51.8L833.0,51.8L834.0,51.8L835.0,52.1L836.0,51.9L837.0,52.0L838.0,52.0L839.0,52.1L840.0,52.3L841.0,52.0L842.0,52.2L843.0,52.4L844.0,52.4L845.0,52.1L846.0,51.8L847.0,51.8L848.0,52.0L849.0,51.7L850.0,51.7L851.0,51.5L852.0,51.2L853.0,51.0L854.0,51.0L855.0,51.1L856.0,51.1L857.0,50.8L858.0,50.4L859.0,50.9L860.0,51.1L861.0,51.1L862.0,51.0L863.0,51.1L864.0,50.6L865.0,50.7L866.0,51.1L867.0,50.9L868.0,50.6L869.0,50.4L870.0,50.3L871.0,50.5L872.0,50.8L873.0,51.3L874.0,51.5L875.0,51.4L876.0,51.2L877.0,50.7L878.0,51.2L879.0,51.7L880.0,51.6L881.0,51.4L882.0,51.3L883.0,51.6L884.0,51.5L885.0,51.6L886.0,51.2L887.0,50.8L888.0,51.0L889.0,51.5L890.0,51.6L891.0,51.4L892.0,51.2L893.0,51.0L894.0,50.3L895.0,50.2L896.0,50.3L897.0,50.9L898.0,51.0L899.0,50.6L900.0,50.6L901.0,50.2L902.0,50.3L903.0,51.0L904.0,50.9L905.0,50.7L906.0,50.9L907.0,50.6L908.0,50.5L909.0,50.6L910.0,50.7L911.0,51.4L912.0,51.6L913.0,51.5L914.0,51.3L915.0,51.1L916.0,51.4L917.0,51.0L918.0,51.3L919.0,51.1L920.0,51.1L921.0,51.4L922.0,51.4L923.0,51.4L924.0,51.0L925.0,51.1L926.0,51.1L927.0,50.9L928.0,50.8L929.0,50.8L930.0,51.1L931.0,51.5L932.0,51.1L933.0,51.2L934.0,51.7L935.0,51.3L936.0,51.4L937.0,51.6L938.0,51.9L939.0,51.8L940.0,51.6L941.0,51.6L942.0,51.8L943.0,51.8L944.0,51.4L945.0,51.7L946.0,52.3L947.0,52.0L948.0,51.6L949.0,51.6L950.0,51.6L951.0,51.7L952.0,51.7L953.0,51.3L954.0,50.8L955.0,51.0L956.0,51.1L957.0,51.0L958.0,51.0L959.0,50.8L960.0,51.0L961.0,51.4L962.0,51.6L963.0,51.4L964.0,51.2L965.0,51.1L966.0,50.8L967.0,50.8L968.0,50.4L969.0,50.5L970.0,50.6L971.0,50.7L972.0,50.6L973.0,50.4L974.0,50.1L975.0,49.9L976.0,49.7L977.0,49.8L978.0,49.6L979.0,49.3L980.0,49.2L981.0,49.8L982.0,49.9L983.0,49.6L984.0,49.6L984.5,49.5L984.5,52.7L984.0,53.0L983.0,52.8L982.0,53.0L981.0,53.0L980.0,52.3L979.0,52.3L978.0,52.9L977.0,52.8L976.0,52.7L975.0,53.0L974.0,53.4L973.0,53.5L972.0,53.6L971.0,53.8L970.0,54.0L969.0,53.7L968.0,53.5L967.0,53.9L966.0,54.1L965.0,54.5L964.0,54.4L963.0,54.6L962.0,54.8L961.0,54.5L960.0,53.9L959.0,53.8L958.0,54.0L957.0,54.1L956.0,54.2L955.0,54.0L954.0,54.0L953.0,54.2L952.0,54.9L951.0,55.1L950.0,54.8L949.0,54.7L948.0,54.8L947.0,55.2L946.0,55.2L945.0,54.8L944.0,54.4L943.0,54.8L942.0,54.8L941.0,54.7L940.0,54.6L939.0,54.7L938.0,54.9L937.0,54.8L936.0,54.3L935.0,54.4L934.0,54.8L933.0,54.4L932.0,54.3L931.0,54.7L930.0,54.1L929.0,53.9L928.0,54.0L927.0,53.9L926.0,54.1L925.0,54.1L924.0,54.3L923.0,54.4L922.0,54.4L921.0,54.5L920.0,54.0L919.0,54.2L918.0,54.5L917.0,54.3L916.0,54.5L915.0,54.6L914.0,54.2L913.0,54.4L912.0,54.6L911.0,54.3L910.0,54.0L909.0,53.6L908.0,53.6L907.0,53.8L906.0,53.8L905.0,53.8L904.0,54.2L903.0,54.0L902.0,53.4L901.0,53.4L900.0,53.8L899.0,53.6L898.0,53.9L897.0,54.1L896.0,53.5L895.0,53.4L894.0,53.8L893.0,53.9L892.0,54.1L891.0,54.4L890.0,54.8L889.0,54.6L888.0,54.3L887.0,54.1L886.0,54.2L885.0,54.8L884.0,55.0L883.0,54.7L882.0,54.6L881.0,54.5L880.0,54.7L879.0,54.7L878.0,54.3L877.0,53.8L876.0,54.1L875.0,54.7L874.0,54.5L873.0,54.6L872.0,53.9L871.0,53.6L870.0,54.1L869.0,53.7L868.0,53.6L867.0,54.1L866.0,54.0L865.0,53.7L864.0,53.6L863.0,54.0L862.0,54.3L861.0,54.2L860.0,54.2L859.0,53.9L858.0,53.7L857.0,53.8L856.0,54.3L855.0,54.1L854.0,54.4L853.0,54.2L852.0,54.2L851.0,54.5L850.0,54.7L849.0,54.9L848.0,55.2L847.0,54.9L846.0,55.0L845.0,55.2L844.0,55.5L843.0,55.6L842.0,55.2L841.0,55.2L840.0,55.3L839.0,55.3L838.0,55.1L837.0,55.3L836.0,55.2L835.0,55.1L834.0,55.1L833.0,54.8L832.0,54.9L831.0,55.1L830.0,54.9L829.0,54.9L828.0,54.9L827.0,55.4L826.0,55.2L825.0,55.2L824.0,55.3L823.0,55.2L822.0,55.2L821.0,55.2L820.0,54.9L819.0,55.0L818.0,55.3L817.0,54.8L816.0,54.6L815.0,54.7L814.0,55.3L813.0,55.2L812.0,55.3L811.0,55.5L810.0,55.7L809.0,55.4L808.0,55.5L807.0,55.8L806.0,55.8L805.0,56.0L804.0,55.9L803.0,55.8L802.0,55.7L801.0,55.6L800.0,55.4L799.0,55.3L798.0,55.3L797.0,56.0L796.0,56.1L795.0,56.6L794.0,56.2L793.0,56.3L792.0,56.1L791.0,56.1L790.0,56.7L789.0,56.8L788.0,57.2L787.0,57.4L786.0,56.9L785.0,56.3L784.0,56.2L783.0,56.2L782.0,56.7L781.0,57.0L780.0,57.1L779.0,56.7L778.0,56.9L777.0,58.0L776.0,58.3L775.0,57.7L774.0,57.2L773.0,57.4L772.0,57.3L771.0,57.2L770.0,57.8L769.0,58.0L768.0,58.5L767.0,58.4L766.0,58.3L765.0,58.4L764.0,58.2L763.0,58.1L762.0,57.8L761.0,58.4L760.0,58.8L759.0,58.6L758.0,58.5L757.0,58.7L756.0,59.0L755.0,59.0L754.0,58.9L753.0,59.0L752.0,59.2L751.0,59.4L750.0,59.1L749.0,59.0L748.0,59.5L747.0,59.7L746.0,59.7L745.0,60.0L744.0,60.1L743.0,60.3L742.0,60.4L741.0,60.6L740.0,60.7L739.0,61.0L738.0,61.1L737.0,60.9L736.0,60.9L735.0,61.2L734.0,61.4L733.0,61.7L732.0,62.1L731.0,61.9L730.0,61.7L729.0,62.3L728.0,62.8L727.0,62.6L726.0,62.9L725.0,63.3L724.0,63.3L723.0,63.3L722.0,63.6L721.0,64.2L720.0,64.5L719.0,65.3L718.0,65.6L717.0,64.7L716.0,64.6L715.0,64.8L714.0,65.1L713.0,65.4L712.0,65.6L711.0,66.2L710.0,66.8L709.0,67.2L708.0,66.9L707.0,67.3L706.0,67.9L705.0,68.0L704.0,67.9L703.0,68.3L702.0,68.7L701.0,69.0L700.0,69.6L699.0,69.7L698.0,69.7L697.0,70.1L696.0,70.7L695.0,71.7L694.0,72.3L693.0,73.0L692.0,73.6L691.0,73.8L690.0,74.2L689.0,74.6L688.0,74.1L687.0,74.4L686.0,75.0L685.0,75.1L684.0,75.6L683.0,76.1L682.0,76.0L681.0,76.4L680.0,77.5L679.0,78.0L678.0,77.8L677.0,77.6L676.0,77.3L675.0,77.1L674.0,77.3L673.0,78.0L672.0,78.4L671.0,78.9L670.0,79.5L669.0,79.9L668.0,80.4L667.0,81.4L666.0,82.3L665.0,82.7L664.0,83.2L663.0,83.9L662.0,84.6L661.0,85.2L660.0,85.8L659.0,86.4L658.0,87.0L657.0,87.3L656.0,87.8L655.0,88.8L654.0,89.9L653.0,90.2L652.0,90.6L651.0,90.6L650.0,91.5L649.0,92.2L648.0,92.7L647.0,93.4L646.0,93.9L645.0,95.0L644.0,96.2L643.0,96.2L642.0,97.1L641.0,97.9L640.0,98.2L639.0,98.7L638.0,99.4L637.0,100.1L636.0,100.8L635.0,101.4L634.0,102.4L633.0,103.4L632.0,105.0L631.0,105.1L630.0,105.0L629.0,105.7L628.0,106.8L627.0,108.0L626.0,109.2L625.0,110.6L624.0,111.2L623.0,112.1L622.0,113.0L621.0,114.2L620.0,115.5L619.0,116.0L618.0,116.7L617.0,118.3L616.0,119.8L615.0,120.7L614.0,122.0L613.0,123.5L612.0,124.1L611.0,124.9L610.0,126.4L609.0,128.2L608.0,129.2L607.0,130.5L606.0,132.0L605.0,133.7L604.0,135.4L603.0,136.9L602.0,138.6L601.0,140.1L600.0,141.5L599.0,142.8L598.0,144.6L597.0,146.2L596.0,148.2L595.0,149.9L594.0,151.3L593.0,153.1L592.0,154.8L591.0,155.9L590.0,157.6L589.0,160.0L588.0,162.1L587.0,164.2L586.0,166.1L585.0,167.5L584.0,169.3L583.0,171.6L582.0,173.7L581.0,176.0L580.0,178.2L579.0,180.5L578.0,181.8L577.0,181.8L576.0,181.9L575.0,181.9L574.0,181.8L573.0,181.8L572.0,181.9Z" fill="#ff0000" stroke="#ff0000" stroke-width="1.5" stroke-linejoin="round"/>
<path d="M572.0,183.2L573.0,183.0L574.0,183.1L575.0,183.1L576.0,183.1L577.0,183.1L578.0,183.0L579.0,182.1L580.0,181.8L581.0,181.4L582.0,180.8L583.0,179.6L584.0,179.4L585.0,178.7L586.0,178.1L587.0,178.3L588.0,178.2L589.0,177.6L590.0,176.9L591.0,176.7L592.0,177.2L593.0,177.2L594.0,176.7L595.0,176.2L596.0,176.1L597.0,175.7L598.0,175.6L599.0,175.4L600.0,175.1L601.0,174.5L602.0,174.8L603.0,174.8L604.0,174.3L605.0,174.0L606.0,173.8L607.0,173.4L608.0,173.3L609.0,173.4L610.0,173.3L611.0,172.8L612.0,172.4L613.0,172.4L614.0,172.6L615.0,172.1L616.0,171.8L617.0,172.1L618.0,171.8L619.0,171.7L620.0,171.9L621.0,172.3L622.0,172.4L623.0,172.3L624.0,172.2L625.0,171.8L626.0,171.8L627.0,172.0L628.0,172.0L629.0,171.8L630.0,171.5L631.0,171.2L632.0,171.0L633.0,171.0L634.0,170.6L635.0,170.4L636.0,170.4L637.0,170.5L638.0,170.0L639.0,170.0L640.0,169.8L641.0,169.5L642.0,169.0L643.0,168.7L644.0,168.7L645.0,168.8L646.0,169.0L647.0,169.1L648.0,168.9L649.0,168.5L650.0,168.2L651.0,168.3L652.0,168.6L653.0,169.2L654.0,168.8L655.0,168.6L656.0,168.8L657.0,168.3L658.0,168.2L659.0,168.4L660.0,168.8L661.0,169.3L662.0,169.1L663.0,169.4L664.0,169.1L665.0,169.3L666.0,169.3L667.0,168.8L668.0,168.8L669.0,169.0L670.0,169.3L671.0,169.4L672.0,168.8L673.0,168.2L674.0,168.4L675.0,168.7L676.0,168.7L677.0,168.4L678.0,168.5L679.0,169.0L680.0,169.3L681.0,169.0L682.0,168.6L683.0,168.4L684.0,168.8L685.0,168.9L686.0,169.1L687.0,168.7L688.0,168.4L689.0,168.6L690.0,168.5L691.0,168.5L692.0,168.7L693.0,168.6L694.0,168.9L695.0,169.2L696.0,168.8L697.0,168.4L698.0,168.4L699.0,168.2L700.0,168.2L701.0,167.9L702.0,167.6L703.0,168.1L704.0,168.6L705.0,168.4L706.0,168.1L707.0,168.5L708.0,168.5L709.0,168.4L710.0,168.2L711.0,167.9L712.0,167.9L713.0,168.0L714.0,167.7L715.0,167.6L716.0,167.6L717.0,167.9L718.0,167.7L719.0,167.6L720.0,167.0L721.0,166.6L722.0,166.6L723.0,167.0L724.0,167.4L725.0,167.3L726.0,167.1L727.0,167.0L728.0,167.2L729.0,167.2L730.0,166.4L731.0,166.1L732.0,166.3L733.0,165.9L734.0,165.9L735.0,166.9L736.0,167.1L737.0,166.9L738.0,167.0L739.0,167.0L740.0,166.7L741.0,166.7L742.0,166.5L743.0,166.6L744.0,166.9L745.0,167.2L746.0,166.8L747.0,167.1L748.0,167.3L749.0,167.6L750.0,167.9L751.0,167.8L752.0,167.4L753.0,167.9L754.0,168.1L755.0,167.7L756.0,168.1L757.0,168.6L758.0,168.0L759.0,167.5L760.0,167.0L761.0,166.7L762.0,166.8L763.0,167.2L764.0,167.4L765.0,167.2L766.0,166.8L767.0,166.7L768.0,167.0L769.0,167.1L770.0,167.0L771.0,167.5L772.0,167.6L773.0,167.0L774.0,166.7L775.0,167.0L776.0,167.2L777.0,167.0L778.0,166.9L779.0,166.6L780.0,166.4L781.0,166.4L782.0,166.3L783.0,166.3L784.0,166.0L785.0,165.8L786.0,166.0L787.0,166.0L788.0,166.1L789.0,166.2L790.0,166.5L791.0,166.8L792.0,166.8L793.0,166.7L794.0,166.8L795.0,166.5L796.0,166.1L797.0,166.7L798.0,167.0L799.0,167.2L800.0,167.3L801.0,167.0L802.0,166.9L803.0,167.2L804.0,167.4L805.0,167.5L806.0,167.4L807.0,167.5L808.0,167.4L809.0,167.0L810.0,166.8L811.0,166.8L812.0,167.3L813.0,167.6L814.0,167.5L815.0,167.7L816.0,167.7L817.0,167.5L818.0,167.6L819.0,167.4L820.0,167.1L821.0,166.8L822.0,166.9L823.0,166.6L824.0,166.8L825.0,166.6L826.0,166.6L827.0,167.4L828.0,167.7L829.0,167.9L830.0,167.7L831.0,167.0L832.0,166.3L833.0,166.6L834.0,166.9L835.0,166.9L836.0,167.1L837.0,166.7L838.0,166.3L839.0,166.5L840.0,166.7L841.0,166.7L842.0,167.4L843.0,167.3L844.0,166.8L845.0,167.0L846.0,167.3L847.0,167.3L848.0,167.3L849.0,167.3L850.0,167.1L851.0,167.2L852.0,167.4L853.0,167.6L854.0,167.5L855.0,167.2L856.0,167.1L857.0,167.1L858.0,167.3L859.0,167.2L860.0,167.2L861.0,167.3L862.0,167.4L863.0,167.4L864.0,166.9L865.0,166.6L866.0,167.2L867.0,167.0L868.0,166.8L869.0,166.6L870.0,167.1L871.0,167.4L872.0,166.8L873.0,166.8L874.0,167.2L875.0,167.1L876.0,167.2L877.0,166.7L878.0,166.3L879.0,166.0L880.0,166.4L881.0,166.4L882.0,166.5L883.0,166.5L884.0,166.3L885.0,166.0L886.0,166.3L887.0,166.1L888.0,166.0L889.0,166.1L890.0,166.3L891.0,165.9L892.0,166.0L893.0,166.0L894.0,165.9L895.0,166.2L896.0,166.4L897.0,166.1L898.0,166.2L899.0,166.7L900.0,166.3L901.0,165.8L902.0,166.1L903.0,166.7L904.0,166.2L905.0,166.0L906.0,166.2L907.0,166.2L908.0,165.9L909.0,165.7L910.0,166.0L911.0,166.2L912.0,166.6L913.0,166.8L914.0,166.4L915.0,166.7L916.0,166.9L917.0,166.8L918.0,166.6L919.0,166.9L920.0,167.0L921.0,167.3L922.0,167.4L923.0,167.7L924.0,167.7L925.0,167.8L926.0,167.7L927.0,168.0L928.0,168.3L929.0,168.3L930.0,168.4L931.0,168.5L932.0,168.0L933.0,167.5L934.0,168.1L935.0,168.6L936.0,168.2L937.0,168.2L938.0,168.5L939.0,168.7L940.0,168.4L941.0,168.1L942.0,168.2L943.0,168.7L944.0,168.8L945.0,168.7L946.0,168.0L947.0,167.9L948.0,168.2L949.0,168.4L950.0,168.4L951.0,168.4L952.0,168.1L953.0,168.3L954.0,168.6L955.0,168.2L956.0,167.8L957.0,167.6L958.0,167.9L959.0,168.0L960.0,168.1L961.0,167.9L962.0,168.2L963.0,168.2L964.0,167.6L965.0,167.7L966.0,167.7L967.0,167.3L968.0,167.2L969.0,167.7L970.0,167.5L971.0,167.5L972.0,167.3L973.0,167.5L974.0,168.0L975.0,168.0L976.0,167.5L977.0,167.3L978.0,167.3L979.0,167.1L980.0,167.0L981.0,167.1L982.0,167.6L983.0,167.5L984.0,167.2L984.5,167.2L984.5,169.4L984.0,169.4L983.0,169.7L982.0,169.8L981.0,169.5L980.0,169.2L979.0,169.2L978.0,169.5L977.0,169.4L976.0,169.5L975.0,170.1L974.0,170.2L973.0,169.7L972.0,169.6L971.0,169.5L970.0,169.8L969.0,170.0L968.0,169.5L967.0,169.4L966.0,169.8L965.0,169.9L964.0,170.1L963.0,170.5L962.0,170.3L961.0,170.2L960.0,170.2L959.0,170.3L958.0,170.0L957.0,169.6L956.0,169.9L955.0,170.5L954.0,171.0L953.0,170.3L952.0,170.4L951.0,170.7L950.0,170.6L949.0,170.5L948.0,170.4L947.0,169.9L946.0,170.2L945.0,170.7L944.0,171.1L943.0,170.9L942.0,170.6L941.0,170.4L940.0,170.5L939.0,170.9L938.0,170.6L937.0,170.3L936.0,170.4L935.0,170.6L934.0,170.3L933.0,169.8L932.0,170.2L931.0,170.8L930.0,170.7L929.0,170.5L928.0,170.4L927.0,170.3L926.0,170.1L925.0,169.9L924.0,169.9L923.0,169.8L922.0,169.7L921.0,169.4L920.0,169.2L919.0,169.2L918.0,168.7L917.0,169.1L916.0,169.4L915.0,168.7L914.0,168.8L913.0,168.9L912.0,168.9L911.0,168.4L910.0,168.4L909.0,167.9L908.0,168.0L907.0,168.4L906.0,168.3L905.0,168.1L904.0,168.4L903.0,169.0L902.0,168.3L901.0,168.0L900.0,168.4L899.0,168.9L898.0,168.6L897.0,168.3L896.0,168.6L895.0,168.3L894.0,168.1L893.0,168.3L892.0,168.2L891.0,168.3L890.0,168.3L889.0,168.3L888.0,168.2L887.0,168.4L886.0,168.5L885.0,168.3L884.0,168.5L883.0,168.6L882.0,168.6L881.0,168.5L880.0,168.5L879.0,168.4L878.0,168.4L877.0,168.8L876.0,169.3L875.0,169.4L874.0,169.3L873.0,169.0L872.0,169.0L871.0,169.4L870.0,169.3L869.0,168.7L868.0,168.9L867.0,169.5L866.0,169.3L865.0,168.9L864.0,168.9L863.0,169.5L862.0,169.7L861.0,169.6L860.0,169.4L859.0,169.5L858.0,169.4L857.0,169.4L856.0,169.5L855.0,169.4L854.0,169.6L853.0,169.7L852.0,169.5L851.0,169.3L850.0,169.2L849.0,169.3L848.0,169.5L847.0,169.4L846.0,169.4L845.0,169.1L844.0,169.1L843.0,169.5L842.0,169.5L841.0,169.0L840.0,168.8L839.0,168.8L838.0,168.6L837.0,169.1L836.0,169.4L835.0,169.1L834.0,169.2L833.0,168.8L832.0,168.6L831.0,169.0L830.0,169.8L829.0,170.0L828.0,170.1L827.0,169.6L826.0,168.8L825.0,168.7L824.0,169.0L823.0,168.9L822.0,169.1L821.0,169.0L820.0,169.2L819.0,169.6L818.0,169.7L817.0,169.7L816.0,169.8L815.0,169.9L814.0,169.8L813.0,169.9L812.0,169.3L811.0,169.1L810.0,169.2L809.0,169.1L808.0,169.5L807.0,169.7L806.0,169.6L805.0,169.7L804.0,169.7L803.0,169.4L802.0,169.1L801.0,169.2L800.0,169.7L799.0,169.6L798.0,169.2L797.0,168.7L796.0,168.6L795.0,168.7L794.0,168.8L793.0,168.9L792.0,168.9L791.0,169.1L790.0,168.5L789.0,168.4L788.0,168.4L787.0,168.2L786.0,168.1L785.0,168.1L784.0,168.2L783.0,168.6L782.0,168.5L781.0,168.5L780.0,168.7L779.0,168.8L778.0,169.0L777.0,169.3L776.0,169.4L775.0,169.2L774.0,169.0L773.0,169.1L772.0,169.8L771.0,169.8L770.0,169.2L769.0,169.3L768.0,169.2L767.0,168.9L766.0,168.9L765.0,169.4L764.0,169.7L763.0,169.4L762.0,169.1L761.0,169.2L760.0,169.4L759.0,169.5L758.0,170.1L757.0,171.0L756.0,170.1L755.0,169.8L754.0,170.2L753.0,170.0L752.0,169.7L751.0,169.8L750.0,170.3L749.0,169.8L748.0,169.4L747.0,169.2L746.0,169.2L745.0,169.3L744.0,169.2L743.0,169.0L742.0,168.7L741.0,168.8L740.0,169.0L739.0,169.3L738.0,169.4L737.0,169.4L736.0,169.4L735.0,168.8L734.0,168.0L733.0,168.0L732.0,168.4L731.0,168.5L730.0,168.7L729.0,169.2L728.0,169.4L727.0,169.2L726.0,169.2L725.0,169.5L724.0,169.6L723.0,169.3L722.0,169.0L721.0,168.9L720.0,169.1L719.0,169.7L718.0,169.9L717.0,170.3L716.0,169.9L715.0,169.7L714.0,170.0L713.0,170.0L712.0,170.1L711.0,170.0L710.0,170.2L709.0,170.7L708.0,170.9L707.0,170.6L706.0,170.4L705.0,170.8L704.0,171.0L703.0,170.1L702.0,170.1L701.0,170.0L700.0,170.2L699.0,170.4L698.0,170.6L697.0,170.6L696.0,170.8L695.0,171.2L694.0,171.0L693.0,170.7L692.0,170.8L691.0,170.7L690.0,170.8L689.0,170.7L688.0,170.7L687.0,170.8L686.0,171.3L685.0,171.2L684.0,170.9L683.0,171.0L682.0,170.7L681.0,171.4L680.0,171.5L679.0,171.0L678.0,170.6L677.0,170.6L676.0,170.9L675.0,170.9L674.0,170.7L673.0,170.4L672.0,170.8L671.0,171.6L670.0,171.4L669.0,171.4L668.0,171.0L667.0,171.3L666.0,171.4L665.0,171.5L664.0,171.3L663.0,171.5L662.0,171.7L661.0,171.4L660.0,170.9L659.0,170.7L658.0,170.5L657.0,170.5L656.0,170.8L655.0,170.7L654.0,171.3L653.0,171.3L652.0,171.0L651.0,170.4L650.0,170.3L649.0,170.6L648.0,171.0L647.0,171.3L646.0,171.1L645.0,170.9L644.0,170.9L643.0,170.9L642.0,171.2L641.0,171.7L640.0,172.3L639.0,172.2L638.0,172.1L637.0,172.5L636.0,172.7L635.0,172.5L634.0,172.9L633.0,173.0L632.0,173.4L631.0,173.2L630.0,173.8L629.0,174.0L628.0,174.2L627.0,174.3L626.0,174.0L625.0,173.9L624.0,174.3L623.0,174.6L622.0,174.5L621.0,174.6L620.0,174.3L619.0,174.0L618.0,174.1L617.0,174.2L616.0,174.1L615.0,174.2L614.0,174.7L613.0,174.8L612.0,174.5L611.0,174.9L610.0,175.5L609.0,175.7L608.0,175.6L607.0,175.5L606.0,175.8L605.0,176.1L604.0,176.4L603.0,176.8L602.0,177.0L601.0,176.8L600.0,177.3L599.0,177.5L598.0,177.8L597.0,177.9L596.0,178.2L595.0,178.2L594.0,178.7L593.0,179.5L592.0,179.4L591.0,178.9L590.0,179.1L589.0,179.7L588.0,180.3L587.0,180.7L586.0,180.3L585.0,180.9L584.0,181.5L583.0,181.6L582.0,182.8L581.0,183.4L580.0,184.0L579.0,184.4L578.0,184.4L577.0,184.4L576.0,184.4L575.0,184.6L574.0,184.5L573.0,184.5L572.0,184.4Z" fill="#ff9d0a" stroke="#ff9d0a" stroke-width="1.5" stroke-linejoin="round"/>
<path d="M572.0,182.7L573.0,182.6L574.0,182.8L575.0,182.9L576.0,182.8L577.0,182.8L578.0,182.7L579.0,182.1L580.0,181.3L581.0,180.6L582.0,179.8L583.0,179.1L584.0,178.3L585.0,177.8L586.0,177.6L587.0,176.8L588.0,176.3L589.0,175.7L590.0,175.0L591.0,175.0L592.0,174.6L593.0,173.9L594.0,173.4L595.0,173.1L596.0,172.9L597.0,172.5L598.0,171.9L599.0,171.9L600.0,171.8L601.0,171.5L602.0,170.7L603.0,170.8L604.0,170.9L605.0,170.4L606.0,169.9L607.0,169.9L608.0,169.7L609.0,169.2L610.0,169.1L611.0,168.5L612.0,168.7L613.0,169.1L614.0,168.9L615.0,168.3L616.0,168.2L617.0,167.6L618.0,167.2L619.0,167.2L620.0,167.0L621.0,167.0L622.0,167.2L623.0,167.1L624.0,167.2L625.0,166.9L626.0,167.1L627.0,167.3L628.0,166.8L629.0,166.5L630.0,166.1L631.0,165.7L632.0,164.8L633.0,164.5L634.0,164.4L635.0,164.6L636.0,164.7L637.0,164.4L638.0,163.8L639.0,163.7L640.0,163.3L641.0,163.5L642.0,163.1L643.0,163.2L644.0,162.8L645.0,162.2L646.0,162.2L647.0,161.8L648.0,161.7L649.0,162.2L650.0,161.9L651.0,161.6L652.0,161.4L653.0,160.9L654.0,160.6L655.0,160.7L656.0,160.4L657.0,159.9L658.0,159.7L659.0,159.6L660.0,159.0L661.0,158.6L662.0,158.7L663.0,158.7L664.0,159.0L665.0,159.5L666.0,159.6L667.0,159.6L668.0,159.5L669.0,159.1L670.0,158.5L671.0,158.7L672.0,158.5L673.0,157.9L674.0,158.1L675.0,157.4L676.0,157.2L677.0,157.4L678.0,157.5L679.0,157.3L680.0,157.4L681.0,157.2L682.0,156.9L683.0,157.3L684.0,157.5L685.0,157.5L686.0,157.1L687.0,157.5L688.0,157.4L689.0,157.4L690.0,157.1L691.0,156.5L692.0,156.0L693.0,156.2L694.0,156.2L695.0,155.9L696.0,155.7L697.0,156.0L698.0,156.5L699.0,156.4L700.0,156.2L701.0,155.6L702.0,155.1L703.0,154.8L704.0,154.8L705.0,155.1L706.0,155.3L707.0,155.2L708.0,154.9L709.0,155.0L710.0,155.0L711.0,154.7L712.0,154.4L713.0,154.5L714.0,154.7L715.0,154.8L716.0,154.8L717.0,154.6L718.0,153.9L719.0,153.9L720.0,154.0L721.0,154.1L722.0,154.6L723.0,154.5L724.0,153.7L725.0,153.9L726.0,154.8L727.0,154.8L728.0,154.4L729.0,154.8L730.0,155.0L731.0,154.8L732.0,155.1L733.0,155.3L734.0,154.7L735.0,154.6L736.0,154.2L737.0,154.1L738.0,154.3L739.0,154.5L740.0,155.0L741.0,155.1L742.0,154.8L743.0,154.2L744.0,154.0L745.0,153.7L746.0,154.3L747.0,154.5L748.0,154.3L749.0,153.9L750.0,154.7L751.0,154.7L752.0,154.2L753.0,154.0L754.0,154.5L755.0,154.6L756.0,154.6L757.0,154.8L758.0,154.8L759.0,154.4L760.0,154.4L761.0,154.6L762.0,154.5L763.0,153.9L764.0,153.9L765.0,154.2L766.0,154.1L767.0,154.2L768.0,154.2L769.0,153.8L770.0,153.4L771.0,153.1L772.0,153.9L773.0,153.9L774.0,153.5L775.0,153.0L776.0,153.6L777.0,153.3L778.0,152.8L779.0,152.8L780.0,152.5L781.0,152.6L782.0,152.6L783.0,152.4L784.0,152.7L785.0,152.7L786.0,152.7L787.0,152.6L788.0,152.0L789.0,152.2L790.0,151.9L791.0,151.8L792.0,151.6L793.0,152.0L794.0,152.2L795.0,152.2L796.0,151.9L797.0,152.2L798.0,151.9L799.0,151.6L800.0,151.3L801.0,151.4L802.0,151.6L803.0,151.3L804.0,151.0L805.0,151.0L806.0,151.2L807.0,151.4L808.0,151.5L809.0,151.6L810.0,151.6L811.0,151.6L812.0,151.6L813.0,151.7L814.0,151.5L815.0,151.6L816.0,151.7L817.0,151.9L818.0,151.9L819.0,151.8L820.0,151.7L821.0,152.0L822.0,151.9L823.0,152.1L824.0,152.0L825.0,152.0L826.0,152.1L827.0,152.1L828.0,152.0L829.0,152.2L830.0,152.4L831.0,152.4L832.0,152.2L833.0,152.4L834.0,152.5L835.0,151.6L836.0,152.2L837.0,152.4L838.0,152.4L839.0,151.9L840.0,151.5L841.0,151.6L842.0,151.8L843.0,152.3L844.0,152.2L845.0,152.1L846.0,151.9L847.0,151.8L848.0,152.0L849.0,152.4L850.0,151.9L851.0,151.2L852.0,151.1L853.0,151.2L854.0,151.4L855.0,151.2L856.0,151.2L857.0,151.4L858.0,151.3L859.0,151.2L860.0,151.4L861.0,151.7L862.0,151.1L863.0,150.9L864.0,151.1L865.0,150.8L866.0,150.8L867.0,151.3L868.0,151.5L869.0,151.1L870.0,150.7L871.0,151.0L872.0,151.3L873.0,151.4L874.0,151.2L875.0,151.1L876.0,151.5L877.0,152.0L878.0,152.2L879.0,152.0L880.0,151.9L881.0,152.5L882.0,152.4L883.0,152.1L884.0,152.0L885.0,151.5L886.0,151.9L887.0,152.1L888.0,152.8L889.0,153.3L890.0,153.2L891.0,153.0L892.0,153.4L893.0,153.6L894.0,153.7L895.0,153.4L896.0,152.9L897.0,153.1L898.0,153.3L899.0,153.3L900.0,153.4L901.0,153.5L902.0,153.4L903.0,153.4L904.0,153.0L905.0,152.6L906.0,152.6L907.0,152.7L908.0,152.5L909.0,152.8L910.0,153.5L911.0,154.1L912.0,153.9L913.0,153.6L914.0,153.3L915.0,153.2L916.0,153.0L917.0,153.3L918.0,153.6L919.0,153.8L920.0,153.7L921.0,153.5L922.0,153.4L923.0,153.1L924.0,153.4L925.0,153.7L926.0,153.2L927.0,153.1L928.0,153.4L929.0,153.1L930.0,152.6L931.0,152.6L932.0,152.3L933.0,152.2L934.0,152.2L935.0,152.5L936.0,152.6L937.0,152.4L938.0,152.1L939.0,152.7L940.0,153.0L941.0,153.0L942.0,152.9L943.0,152.8L944.0,152.6L945.0,152.2L946.0,152.0L947.0,152.0L948.0,151.6L949.0,151.3L950.0,151.6L951.0,152.0L952.0,151.8L953.0,151.9L954.0,151.9L955.0,151.8L956.0,152.0L957.0,152.3L958.0,152.2L959.0,151.5L960.0,151.0L961.0,151.1L962.0,151.2L963.0,151.0L964.0,151.0L965.0,151.0L966.0,150.9L967.0,150.7L968.0,150.9L969.0,150.6L970.0,150.7L971.0,150.9L972.0,150.3L973.0,150.0L974.0,149.7L975.0,149.7L976.0,150.1L977.0,150.1L978.0,150.2L979.0,149.9L980.0,148.9L981.0,149.3L982.0,150.3L983.0,150.6L984.0,150.5L984.5,150.5L984.5,152.5L984.0,152.4L983.0,152.4L982.0,152.3L981.0,151.4L980.0,151.4L979.0,151.8L978.0,152.7L977.0,152.3L976.0,152.1L975.0,152.0L974.0,151.8L973.0,152.0L972.0,152.3L971.0,152.9L970.0,152.6L969.0,152.7L968.0,153.0L967.0,152.9L966.0,152.7L965.0,152.9L964.0,153.0L963.0,153.0L962.0,153.1L961.0,153.2L960.0,153.1L959.0,153.3L958.0,154.2L957.0,154.2L956.0,153.8L955.0,153.8L954.0,154.0L953.0,153.8L952.0,154.0L951.0,153.9L950.0,153.4L949.0,153.3L948.0,153.6L947.0,153.9L946.0,154.1L945.0,154.2L944.0,154.5L943.0,154.9L942.0,154.9L941.0,155.2L940.0,155.0L939.0,154.8L938.0,154.4L937.0,154.4L936.0,154.5L935.0,154.3L934.0,154.2L933.0,154.3L932.0,154.3L931.0,154.5L930.0,154.8L929.0,154.9L928.0,155.3L927.0,155.1L926.0,155.2L925.0,155.7L924.0,155.5L923.0,155.4L922.0,155.3L921.0,155.5L920.0,155.7L919.0,155.8L918.0,155.6L917.0,155.3L916.0,155.0L915.0,155.1L914.0,155.1L913.0,155.5L912.0,155.9L911.0,156.0L910.0,155.3L909.0,154.8L908.0,155.1L907.0,154.9L906.0,154.7L905.0,154.7L904.0,155.2L903.0,155.3L902.0,155.5L901.0,155.4L900.0,155.3L899.0,155.3L898.0,155.4L897.0,155.1L896.0,155.0L895.0,155.5L894.0,155.8L893.0,155.5L892.0,155.3L891.0,155.2L890.0,155.3L889.0,155.3L888.0,154.7L887.0,154.1L886.0,153.7L885.0,153.6L884.0,153.8L883.0,154.2L882.0,154.5L881.0,154.5L880.0,153.9L879.0,154.3L878.0,154.2L877.0,153.8L876.0,153.6L875.0,153.4L874.0,153.2L873.0,153.3L872.0,153.4L871.0,153.0L870.0,153.0L869.0,153.0L868.0,153.3L867.0,153.3L866.0,152.9L865.0,153.1L864.0,153.4L863.0,152.8L862.0,153.0L861.0,153.8L860.0,153.5L859.0,153.2L858.0,153.3L857.0,153.5L856.0,153.3L855.0,153.3L854.0,153.3L853.0,153.3L852.0,152.9L851.0,153.2L850.0,153.9L849.0,154.2L848.0,153.9L847.0,153.7L846.0,153.8L845.0,154.1L844.0,154.3L843.0,154.3L842.0,154.1L841.0,153.5L840.0,153.4L839.0,154.0L838.0,154.2L837.0,154.4L836.0,154.1L835.0,154.0L834.0,154.4L833.0,154.3L832.0,154.2L831.0,154.4L830.0,154.6L829.0,154.3L828.0,153.9L827.0,154.1L826.0,154.1L825.0,154.0L824.0,154.2L823.0,154.1L822.0,154.0L821.0,154.0L820.0,153.8L819.0,153.8L818.0,154.3L817.0,154.0L816.0,153.6L815.0,153.5L814.0,153.9L813.0,153.7L812.0,153.5L811.0,153.6L810.0,153.7L809.0,153.5L808.0,153.6L807.0,153.4L806.0,153.0L805.0,153.0L804.0,153.1L803.0,153.5L802.0,153.5L801.0,153.4L800.0,153.3L799.0,153.7L798.0,154.0L797.0,154.0L796.0,153.8L795.0,154.0L794.0,154.4L793.0,153.9L792.0,153.6L791.0,153.7L790.0,153.7L789.0,154.0L788.0,154.4L787.0,154.5L786.0,154.6L785.0,154.8L784.0,154.6L783.0,154.7L782.0,154.6L781.0,154.5L780.0,154.6L779.0,155.0L778.0,155.0L777.0,155.4L776.0,155.4L775.0,155.4L774.0,155.6L773.0,155.9L772.0,155.9L771.0,155.5L770.0,155.4L769.0,155.9L768.0,156.1L767.0,156.2L766.0,156.1L765.0,156.2L764.0,156.1L763.0,155.8L762.0,156.4L761.0,156.7L760.0,156.3L759.0,156.4L758.0,156.8L757.0,156.7L756.0,156.6L755.0,156.4L754.0,156.3L753.0,156.3L752.0,156.2L751.0,156.7L750.0,156.5L749.0,156.1L748.0,156.1L747.0,156.8L746.0,156.4L745.0,156.0L744.0,156.0L743.0,156.2L742.0,156.8L741.0,157.1L740.0,156.9L739.0,156.5L738.0,156.3L737.0,156.2L736.0,156.2L735.0,156.5L734.0,156.9L733.0,157.3L732.0,157.1L731.0,156.7L730.0,157.0L729.0,156.7L728.0,156.9L727.0,157.0L726.0,156.6L725.0,156.0L724.0,155.7L723.0,156.3L722.0,156.6L721.0,156.1L720.0,156.1L719.0,156.0L718.0,156.0L717.0,156.4L716.0,156.7L715.0,156.7L714.0,156.8L713.0,156.7L712.0,156.4L711.0,156.7L710.0,156.9L709.0,156.8L708.0,156.7L707.0,157.0L706.0,157.4L705.0,156.9L704.0,156.8L703.0,156.9L702.0,157.0L701.0,157.7L700.0,158.3L699.0,158.4L698.0,158.4L697.0,158.0L696.0,157.7L695.0,158.0L694.0,158.4L693.0,158.2L692.0,158.0L691.0,158.6L690.0,159.0L689.0,159.4L688.0,159.6L687.0,159.5L686.0,159.6L685.0,159.5L684.0,159.5L683.0,159.3L682.0,159.1L681.0,159.3L680.0,159.4L679.0,159.5L678.0,159.4L677.0,159.2L676.0,159.2L675.0,159.5L674.0,159.9L673.0,160.2L672.0,160.4L671.0,160.7L670.0,160.5L669.0,161.0L668.0,161.5L667.0,161.5L666.0,161.5L665.0,161.4L664.0,161.1L663.0,160.8L662.0,160.8L661.0,160.7L660.0,160.9L659.0,161.4L658.0,161.9L657.0,161.9L656.0,162.3L655.0,162.6L654.0,162.6L653.0,162.8L652.0,163.3L651.0,163.6L650.0,164.1L649.0,164.2L648.0,164.0L647.0,163.8L646.0,164.0L645.0,164.3L644.0,164.6L643.0,165.2L642.0,165.4L641.0,165.4L640.0,165.5L639.0,165.7L638.0,165.7L637.0,166.2L636.0,166.7L635.0,166.5L634.0,166.6L633.0,166.5L632.0,166.8L631.0,167.8L630.0,168.2L629.0,168.5L628.0,168.7L627.0,169.1L626.0,168.9L625.0,168.8L624.0,169.1L623.0,169.2L622.0,169.1L621.0,169.1L620.0,169.2L619.0,169.1L618.0,169.3L617.0,169.6L616.0,170.1L615.0,170.2L614.0,170.8L613.0,171.0L612.0,171.0L611.0,170.8L610.0,171.0L609.0,171.2L608.0,171.6L607.0,171.9L606.0,171.9L605.0,172.2L604.0,173.0L603.0,172.7L602.0,172.7L601.0,173.4L600.0,174.0L599.0,174.0L598.0,174.0L597.0,174.2L596.0,175.0L595.0,175.3L594.0,175.2L593.0,176.0L592.0,176.6L591.0,176.8L590.0,177.1L589.0,177.8L588.0,178.2L587.0,178.8L586.0,179.3L585.0,179.7L584.0,180.1L583.0,180.9L582.0,181.6L581.0,182.6L580.0,183.2L579.0,183.9L578.0,184.1L577.0,184.3L576.0,184.2L575.0,184.1L574.0,184.4L573.0,184.2L572.0,184.2Z" fill="#ff00ff" stroke="#ff00ff" stroke-width="1.5" stroke-linejoin="round"/>
<path d="M572.0,181.9L573.0,181.7L574.0,182.0L575.0,181.7L576.0,181.9L577.0,181.9L578.0,181.8L579.0,181.0L580.0,180.0L581.0,179.1L582.0,178.2L583.0,176.3L584.0,175.8L585.0,175.0L586.0,174.4L587.0,173.5L588.0,172.5L589.0,171.4L590.0,170.5L591.0,169.7L592.0,168.7L593.0,167.6L594.0,166.1L595.0,165.1L596.0,164.1L597.0,163.0L598.0,161.9L599.0,160.8L600.0,159.6L601.0,158.6L602.0,158.6L603.0,157.9L604.0,156.9L605.0,156.0L606.0,155.4L607.0,155.0L608.0,154.2L609.0,153.6L610.0,152.6L611.0,152.2L612.0,152.1L613.0,151.1L614.0,149.8L615.0,149.2L616.0,148.7L617.0,147.4L618.0,146.9L619.0,146.6L620.0,146.2L621.0,145.6L622.0,145.4L623.0,145.0L624.0,144.7L625.0,144.0L626.0,143.2L627.0,142.8L628.0,142.7L629.0,142.6L630.0,141.8L631.0,141.0L632.0,140.8L633.0,140.3L634.0,139.9L635.0,139.3L636.0,139.1L637.0,139.1L638.0,139.1L639.0,138.7L640.0,137.7L641.0,137.3L642.0,136.9L643.0,136.9L644.0,136.7L645.0,136.5L646.0,136.3L647.0,135.7L648.0,134.8L649.0,133.9L650.0,133.7L651.0,133.5L652.0,133.3L653.0,132.9L654.0,132.8L655.0,132.9L656.0,132.2L657.0,131.4L658.0,131.6L659.0,131.8L660.0,131.1L661.0,130.6L662.0,130.7L663.0,130.5L664.0,130.6L665.0,130.8L666.0,130.9L667.0,130.9L668.0,130.7L669.0,130.4L670.0,130.2L671.0,129.4L672.0,129.1L673.0,128.7L674.0,128.4L675.0,128.3L676.0,128.1L677.0,127.9L678.0,127.5L679.0,127.0L680.0,126.9L681.0,127.0L682.0,127.0L683.0,126.8L684.0,126.2L685.0,125.5L686.0,125.2L687.0,125.1L688.0,125.3L689.0,125.1L690.0,124.7L691.0,124.7L692.0,124.3L693.0,124.4L694.0,123.8L695.0,123.4L696.0,123.7L697.0,123.6L698.0,123.3L699.0,122.6L700.0,122.3L701.0,123.3L702.0,123.7L703.0,123.1L704.0,122.7L705.0,123.1L706.0,122.9L707.0,122.5L708.0,122.7L709.0,122.3L710.0,121.8L711.0,121.9L712.0,122.2L713.0,122.0L714.0,121.8L715.0,121.5L716.0,121.2L717.0,121.0L718.0,121.2L719.0,121.5L720.0,121.0L721.0,121.2L722.0,121.0L723.0,121.2L724.0,121.4L725.0,121.3L726.0,121.2L727.0,120.9L728.0,120.1L729.0,119.7L730.0,120.5L731.0,120.6L732.0,120.3L733.0,120.1L734.0,119.9L735.0,120.0L736.0,120.0L737.0,120.2L738.0,120.2L739.0,119.9L740.0,120.3L741.0,120.2L742.0,120.1L743.0,119.8L744.0,119.5L745.0,119.6L746.0,119.7L747.0,119.6L748.0,119.9L749.0,120.5L750.0,120.7L751.0,120.4L752.0,119.6L753.0,119.4L754.0,119.3L755.0,119.2L756.0,119.3L757.0,119.7L758.0,119.7L759.0,119.7L760.0,118.4L761.0,118.8L762.0,119.1L763.0,119.0L764.0,118.4L765.0,118.2L766.0,118.8L767.0,118.8L768.0,118.7L769.0,119.2L770.0,119.4L771.0,119.0L772.0,118.6L773.0,118.2L774.0,118.0L775.0,118.6L776.0,118.6L777.0,118.7L778.0,118.8L779.0,119.2L780.0,119.6L781.0,119.6L782.0,119.6L783.0,119.3L784.0,119.2L785.0,119.2L786.0,119.2L787.0,119.7L788.0,119.5L789.0,119.2L790.0,119.3L791.0,119.7L792.0,119.5L793.0,119.3L794.0,119.3L795.0,119.4L796.0,119.6L797.0,119.3L798.0,119.2L799.0,119.5L800.0,120.0L801.0,120.0L802.0,120.0L803.0,119.9L804.0,119.6L805.0,119.7L806.0,119.3L807.0,119.3L808.0,118.9L809.0,119.5L810.0,119.6L811.0,119.6L812.0,119.3L813.0,119.1L814.0,118.9L815.0,118.9L816.0,119.1L817.0,119.3L818.0,119.2L819.0,118.7L820.0,118.7L821.0,118.9L822.0,119.0L823.0,118.8L824.0,118.8L825.0,118.5L826.0,118.0L827.0,117.7L828.0,118.0L829.0,118.3L830.0,118.1L831.0,117.8L832.0,118.2L833.0,117.7L834.0,117.6L835.0,118.1L836.0,118.1L837.0,117.7L838.0,117.7L839.0,117.7L840.0,116.9L841.0,116.7L842.0,116.9L843.0,116.8L844.0,116.7L845.0,116.8L846.0,117.1L847.0,117.3L848.0,117.2L849.0,116.9L850.0,116.8L851.0,117.4L852.0,117.1L853.0,117.1L854.0,117.4L855.0,117.7L856.0,117.6L857.0,117.3L858.0,117.5L859.0,117.7L860.0,117.6L861.0,117.4L862.0,116.9L863.0,117.0L864.0,117.2L865.0,117.1L866.0,117.3L867.0,117.7L868.0,117.7L869.0,117.9L870.0,118.0L871.0,117.8L872.0,117.7L873.0,117.8L874.0,118.0L875.0,117.8L876.0,117.6L877.0,117.1L878.0,117.2L879.0,117.6L880.0,117.6L881.0,117.9L882.0,118.1L883.0,118.4L884.0,118.4L885.0,118.7L886.0,118.3L887.0,117.9L888.0,117.9L889.0,117.4L890.0,117.5L891.0,117.5L892.0,117.5L893.0,117.3L894.0,117.7L895.0,117.7L896.0,117.6L897.0,117.4L898.0,117.5L899.0,118.0L900.0,118.3L901.0,118.1L902.0,117.5L903.0,117.5L904.0,117.2L905.0,117.6L906.0,118.0L907.0,118.1L908.0,118.2L909.0,117.5L910.0,117.3L911.0,117.7L912.0,118.3L913.0,118.6L914.0,118.8L915.0,119.1L916.0,119.1L917.0,118.9L918.0,118.5L919.0,118.0L920.0,117.9L921.0,118.5L922.0,118.7L923.0,118.6L924.0,118.3L925.0,118.7L926.0,118.6L927.0,118.8L928.0,118.9L929.0,118.7L930.0,118.9L931.0,118.9L932.0,119.2L933.0,119.4L934.0,119.3L935.0,118.8L936.0,118.8L937.0,119.2L938.0,119.2L939.0,119.1L940.0,118.8L941.0,118.3L942.0,118.0L943.0,118.5L944.0,118.4L945.0,118.6L946.0,118.3L947.0,118.1L948.0,117.9L949.0,118.0L950.0,118.1L951.0,118.1L952.0,117.9L953.0,117.8L954.0,118.2L955.0,118.5L956.0,118.5L957.0,118.3L958.0,118.2L959.0,117.5L960.0,117.1L961.0,117.4L962.0,118.1L963.0,117.9L964.0,118.1L965.0,117.8L966.0,117.4L967.0,117.6L968.0,117.4L969.0,118.0L970.0,118.6L971.0,118.6L972.0,117.9L973.0,117.6L974.0,117.5L975.0,117.7L976.0,117.9L977.0,117.6L978.0,117.7L979.0,117.8L980.0,117.9L981.0,117.5L982.0,117.3L983.0,117.1L984.0,117.6L984.5,117.9L984.5,120.0L984.0,120.0L983.0,119.7L982.0,119.4L981.0,119.7L980.0,120.1L979.0,120.2L978.0,120.0L977.0,120.0L976.0,120.2L975.0,120.0L974.0,119.7L973.0,119.7L972.0,120.2L971.0,120.9L970.0,120.8L969.0,120.2L968.0,119.9L967.0,119.7L966.0,119.8L965.0,120.2L964.0,120.5L963.0,120.5L962.0,120.4L961.0,119.8L960.0,119.5L959.0,120.0L958.0,120.4L957.0,120.8L956.0,121.0L955.0,120.8L954.0,120.6L953.0,120.2L952.0,120.2L951.0,120.4L950.0,120.3L949.0,120.2L948.0,120.4L947.0,120.4L946.0,120.6L945.0,120.8L944.0,120.8L943.0,120.8L942.0,120.4L941.0,120.5L940.0,121.1L939.0,121.3L938.0,121.5L937.0,121.3L936.0,121.1L935.0,121.0L934.0,121.5L933.0,121.7L932.0,121.6L931.0,121.2L930.0,121.2L929.0,121.3L928.0,121.0L927.0,121.1L926.0,121.1L925.0,120.9L924.0,120.7L923.0,121.0L922.0,121.0L921.0,120.7L920.0,120.5L919.0,120.7L918.0,120.9L917.0,121.2L916.0,121.5L915.0,121.4L914.0,121.2L913.0,120.8L912.0,120.5L911.0,119.8L910.0,119.6L909.0,120.0L908.0,120.3L907.0,120.5L906.0,120.2L905.0,119.8L904.0,119.8L903.0,120.0L902.0,120.1L901.0,120.2L900.0,120.8L899.0,120.2L898.0,119.8L897.0,119.9L896.0,119.7L895.0,119.9L894.0,120.1L893.0,119.6L892.0,119.7L891.0,119.8L890.0,119.8L889.0,119.9L888.0,120.2L887.0,120.3L886.0,120.6L885.0,121.0L884.0,120.8L883.0,120.7L882.0,120.4L881.0,120.0L880.0,119.9L879.0,119.9L878.0,119.8L877.0,119.9L876.0,119.8L875.0,120.0L874.0,120.3L873.0,120.2L872.0,120.0L871.0,120.2L870.0,120.1L869.0,120.0L868.0,120.0L867.0,119.9L866.0,119.5L865.0,119.3L864.0,119.4L863.0,119.2L862.0,119.3L861.0,119.5L860.0,119.9L859.0,119.9L858.0,119.7L857.0,119.6L856.0,119.8L855.0,120.0L854.0,119.6L853.0,119.3L852.0,119.6L851.0,119.7L850.0,119.2L849.0,119.4L848.0,119.4L847.0,119.5L846.0,119.4L845.0,119.1L844.0,119.2L843.0,119.2L842.0,119.2L841.0,119.2L840.0,119.3L839.0,120.0L838.0,120.1L837.0,120.0L836.0,120.5L835.0,120.4L834.0,120.2L833.0,120.1L832.0,120.6L831.0,120.7L830.0,120.3L829.0,120.5L828.0,120.3L827.0,120.1L826.0,120.4L825.0,120.7L824.0,120.9L823.0,121.1L822.0,121.5L821.0,121.5L820.0,120.9L819.0,121.0L818.0,121.4L817.0,121.7L816.0,121.5L815.0,121.4L814.0,121.3L813.0,121.5L812.0,121.6L811.0,121.7L810.0,122.2L809.0,121.8L808.0,121.5L807.0,121.5L806.0,121.7L805.0,121.8L804.0,121.9L803.0,122.1L802.0,122.2L801.0,122.2L800.0,122.2L799.0,121.8L798.0,121.5L797.0,121.5L796.0,121.7L795.0,121.6L794.0,121.5L793.0,121.7L792.0,121.9L791.0,121.9L790.0,121.6L789.0,121.4L788.0,121.7L787.0,122.1L786.0,121.8L785.0,121.7L784.0,121.4L783.0,121.5L782.0,121.7L781.0,121.9L780.0,121.8L779.0,121.4L778.0,121.0L777.0,121.0L776.0,121.0L775.0,120.8L774.0,120.4L773.0,120.6L772.0,121.1L771.0,121.4L770.0,122.0L769.0,121.7L768.0,121.0L767.0,121.1L766.0,121.0L765.0,120.8L764.0,120.9L763.0,121.2L762.0,121.4L761.0,121.0L760.0,121.0L759.0,121.9L758.0,122.1L757.0,121.9L756.0,121.7L755.0,121.5L754.0,121.5L753.0,121.6L752.0,122.1L751.0,122.5L750.0,122.9L749.0,122.8L748.0,122.2L747.0,121.9L746.0,121.8L745.0,122.2L744.0,121.8L743.0,122.0L742.0,122.3L741.0,122.6L740.0,122.6L739.0,122.4L738.0,122.4L737.0,122.5L736.0,122.2L735.0,122.3L734.0,122.3L733.0,122.4L732.0,122.5L731.0,122.8L730.0,122.6L729.0,122.2L728.0,122.3L727.0,123.0L726.0,123.6L725.0,123.6L724.0,123.6L723.0,123.8L722.0,123.7L721.0,123.6L720.0,123.6L719.0,123.8L718.0,123.6L717.0,123.3L716.0,123.5L715.0,123.7L714.0,124.0L713.0,124.3L712.0,124.4L711.0,124.3L710.0,124.3L709.0,124.5L708.0,125.0L707.0,125.1L706.0,125.1L705.0,125.3L704.0,125.2L703.0,125.4L702.0,126.1L701.0,125.7L700.0,124.8L699.0,125.0L698.0,125.4L697.0,125.8L696.0,125.8L695.0,125.8L694.0,126.0L693.0,126.7L692.0,126.7L691.0,126.8L690.0,127.0L689.0,127.2L688.0,127.6L687.0,127.6L686.0,127.7L685.0,127.7L684.0,128.3L683.0,128.9L682.0,129.3L681.0,129.5L680.0,129.2L679.0,129.3L678.0,129.9L677.0,130.2L676.0,130.4L675.0,130.8L674.0,130.7L673.0,130.9L672.0,131.2L671.0,131.6L670.0,132.3L669.0,133.0L668.0,133.1L667.0,133.2L666.0,133.1L665.0,133.2L664.0,132.9L663.0,132.7L662.0,133.0L661.0,132.9L660.0,133.3L659.0,133.9L658.0,133.8L657.0,133.6L656.0,134.2L655.0,135.0L654.0,135.3L653.0,135.2L652.0,135.5L651.0,135.8L650.0,135.8L649.0,136.0L648.0,136.8L647.0,137.7L646.0,138.4L645.0,138.7L644.0,139.1L643.0,139.2L642.0,139.3L641.0,139.5L640.0,139.9L639.0,140.7L638.0,141.4L637.0,141.3L636.0,141.3L635.0,141.6L634.0,141.9L633.0,142.5L632.0,143.3L631.0,143.4L630.0,143.9L629.0,144.7L628.0,145.0L627.0,145.3L626.0,145.5L625.0,146.0L624.0,146.8L623.0,147.4L622.0,147.7L621.0,147.9L620.0,148.6L619.0,148.8L618.0,149.1L617.0,149.8L616.0,150.9L615.0,151.2L614.0,151.6L613.0,153.0L612.0,154.1L611.0,154.5L610.0,154.9L609.0,155.6L608.0,156.4L607.0,157.0L606.0,158.0L605.0,158.2L604.0,159.0L603.0,160.1L602.0,160.7L601.0,160.7L600.0,161.6L599.0,162.8L598.0,163.7L597.0,164.9L596.0,166.0L595.0,167.3L594.0,168.1L593.0,169.6L592.0,170.7L591.0,171.7L590.0,172.8L589.0,173.3L588.0,174.4L587.0,175.4L586.0,176.4L585.0,177.3L584.0,178.0L583.0,178.4L582.0,180.0L581.0,180.9L580.0,182.2L579.0,182.8L578.0,183.3L577.0,183.3L576.0,183.4L575.0,183.3L574.0,183.3L573.0,183.2L572.0,183.4Z" fill="#0000ff" stroke="#0000ff" stroke-width="1.5" stroke-linejoin="round"/>
<rect x="571.5" y="23.5" width="413.5" height="162.0" fill="none" class="a"/>
<line x1="578.5" y1="23.5" x2="578.5" y2="28.0" class="a"/>
<line x1="578.5" y1="185.5" x2="578.5" y2="181.0" class="a"/>
<line x1="646.5" y1="23.5" x2="646.5" y2="28.0" class="a"/>
<line x1="646.5" y1="185.5" x2="646.5" y2="181.0" class="a"/>
<line x1="713.5" y1="23.5" x2="713.5" y2="28.0" class="a"/>
<line x1="713.5" y1="185.5" x2="713.5" y2="181.0" class="a"/>
<line x1="781.5" y1="23.5" x2="781.5" y2="28.0" class="a"/>
<line x1="781.5" y1="185.5" x2="781.5" y2="181.0" class="a"/>
<line x1="849.5" y1="23.5" x2="849.5" y2="28.0" class="a"/>
<line x1="849.5" y1="185.5" x2="849.5" y2="181.0" class="a"/>
<line x1="917.5" y1="23.5" x2="917.5" y2="28.0" class="a"/>
<line x1="917.5" y1="185.5" x2="917.5" y2="181.0" class="a"/>
<line x1="571.5" y1="146.5" x2="576.0" y2="146.5" class="a"/>
<line x1="985.0" y1="146.5" x2="980.5" y2="146.5" class="a"/>
<line x1="571.5" y1="108.5" x2="576.0" y2="108.5" class="a"/>
<line x1="985.0" y1="108.5" x2="980.5" y2="108.5" class="a"/>
<line x1="571.5" y1="69.5" x2="576.0" y2="69.5" class="a"/>
<line x1="985.0" y1="69.5" x2="980.5" y2="69.5" class="a"/>
<line x1="571.5" y1="31.5" x2="576.0" y2="31.5" class="a"/>
<line x1="985.0" y1="31.5" x2="980.5" y2="31.5" class="a"/>
<line x1="849.7" y1="143.7" x2="849.7" y2="177.29999999999998" stroke="#000" stroke-width="1.45" stroke-dasharray="6.3 1.3 1.5 1.3" stroke-dashoffset="0.0"/><path d="M849.7,184.1 L845.7,174.29999999999998 Q848.7,176.49999999999997 849.7,176.89999999999998 Q850.7,176.49999999999997 853.7,174.29999999999998 Z" fill="#000"/>
<text x="845.8" y="138.6" class="at it" style="font-size:21px">t</text>
<text x="852.8" y="141.9" class="as" textLength="49.8" lengthAdjust="spacing">charging</text>
<text x="909.0" y="140.5" class="at" textLength="16.8" lengthAdjust="spacingAndGlyphs">≈</text>
<text x="930.7" y="138.6" class="an" textLength="17.6" lengthAdjust="spacing">20</text>
<text x="955.6" y="138.6" class="at">s</text>
<text x="782.5" y="85.9" class="at" style="word-spacing:1.6px" textLength="198.4" lengthAdjust="spacingAndGlyphs">without voltage sensing</text>
<rect x="631.5" y="13.5" width="293" height="25" fill="#fff" class="a"/>
<line x1="634.1" y1="26.2" x2="661.4" y2="26.2" stroke="#ff0000" stroke-width="1.15"/>
<text transform="translate(663.9 31.0) scale(1.12 1)" class="lv">v</text>
<text x="673.3" y="33.2" class="ls" textLength="28.8" lengthAdjust="spacing">Cap1</text>
<line x1="707.0" y1="26.2" x2="734.2" y2="26.2" stroke="#0000ff" stroke-width="1.15"/>
<text transform="translate(736.8 31.0) scale(1.12 1)" class="lv">v</text>
<text x="746.2" y="33.2" class="ls" textLength="28.8" lengthAdjust="spacing">Cap2</text>
<line x1="779.8" y1="26.2" x2="807.1" y2="26.2" stroke="#ff00ff" stroke-width="1.15"/>
<text transform="translate(809.6 31.0) scale(1.12 1)" class="lv">v</text>
<text x="819.0" y="33.2" class="ls" textLength="28.8" lengthAdjust="spacing">Cap3</text>
<line x1="852.6" y1="26.2" x2="879.9" y2="26.2" stroke="#ff9d0a" stroke-width="1.15"/>
<text transform="translate(882.4 31.0) scale(1.12 1)" class="lv">v</text>
<text x="891.9" y="33.2" class="ls" textLength="28.8" lengthAdjust="spacing">Cap4</text>
<text transform="translate(578.3 207.8) scale(0.92 1)" class="tk" text-anchor="middle">0</text>
<text transform="translate(646.1 207.8) scale(0.92 1)" class="tk" text-anchor="middle">5</text>
<text transform="translate(713.9 207.8) scale(0.92 1)" class="tk" text-anchor="middle">10</text>
<text transform="translate(781.6 207.8) scale(0.92 1)" class="tk" text-anchor="middle">15</text>
<text transform="translate(849.4 207.8) scale(0.92 1)" class="tk" text-anchor="middle">20</text>
<text transform="translate(917.2 207.8) scale(0.92 1)" class="tk" text-anchor="middle">25</text>
<text transform="translate(985.0 207.8) scale(0.92 1)" class="tk" text-anchor="middle">30</text>
<text transform="translate(566.1 192.0) scale(0.92 1)" class="tk" text-anchor="end">0</text>
<text transform="translate(566.1 153.4) scale(0.92 1)" class="tk" text-anchor="end">50</text>
<text transform="translate(566.1 114.9) scale(0.92 1)" class="tk" text-anchor="end">100</text>
<text transform="translate(566.1 76.3) scale(0.92 1)" class="tk" text-anchor="end">150</text>
<text transform="translate(566.1 37.7) scale(0.92 1)" class="tk" text-anchor="end">200</text>
<text x="740.8" y="228" class="lb" textLength="43" lengthAdjust="spacing">Time</text>
<text x="792.0" y="228" class="lb it">t</text>
<text x="798.8" y="228" class="lb" textLength="16.2" lengthAdjust="spacingAndGlyphs">[s]</text>
<text transform="translate(530.1,104.9) rotate(-90)" class="lb" text-anchor="middle" textLength="92" lengthAdjust="spacing">Voltage [V]</text>
<text x="754.1" y="267.6" class="cap" text-anchor="middle">b</text>
</g>
</svg>
</body>
</html>
